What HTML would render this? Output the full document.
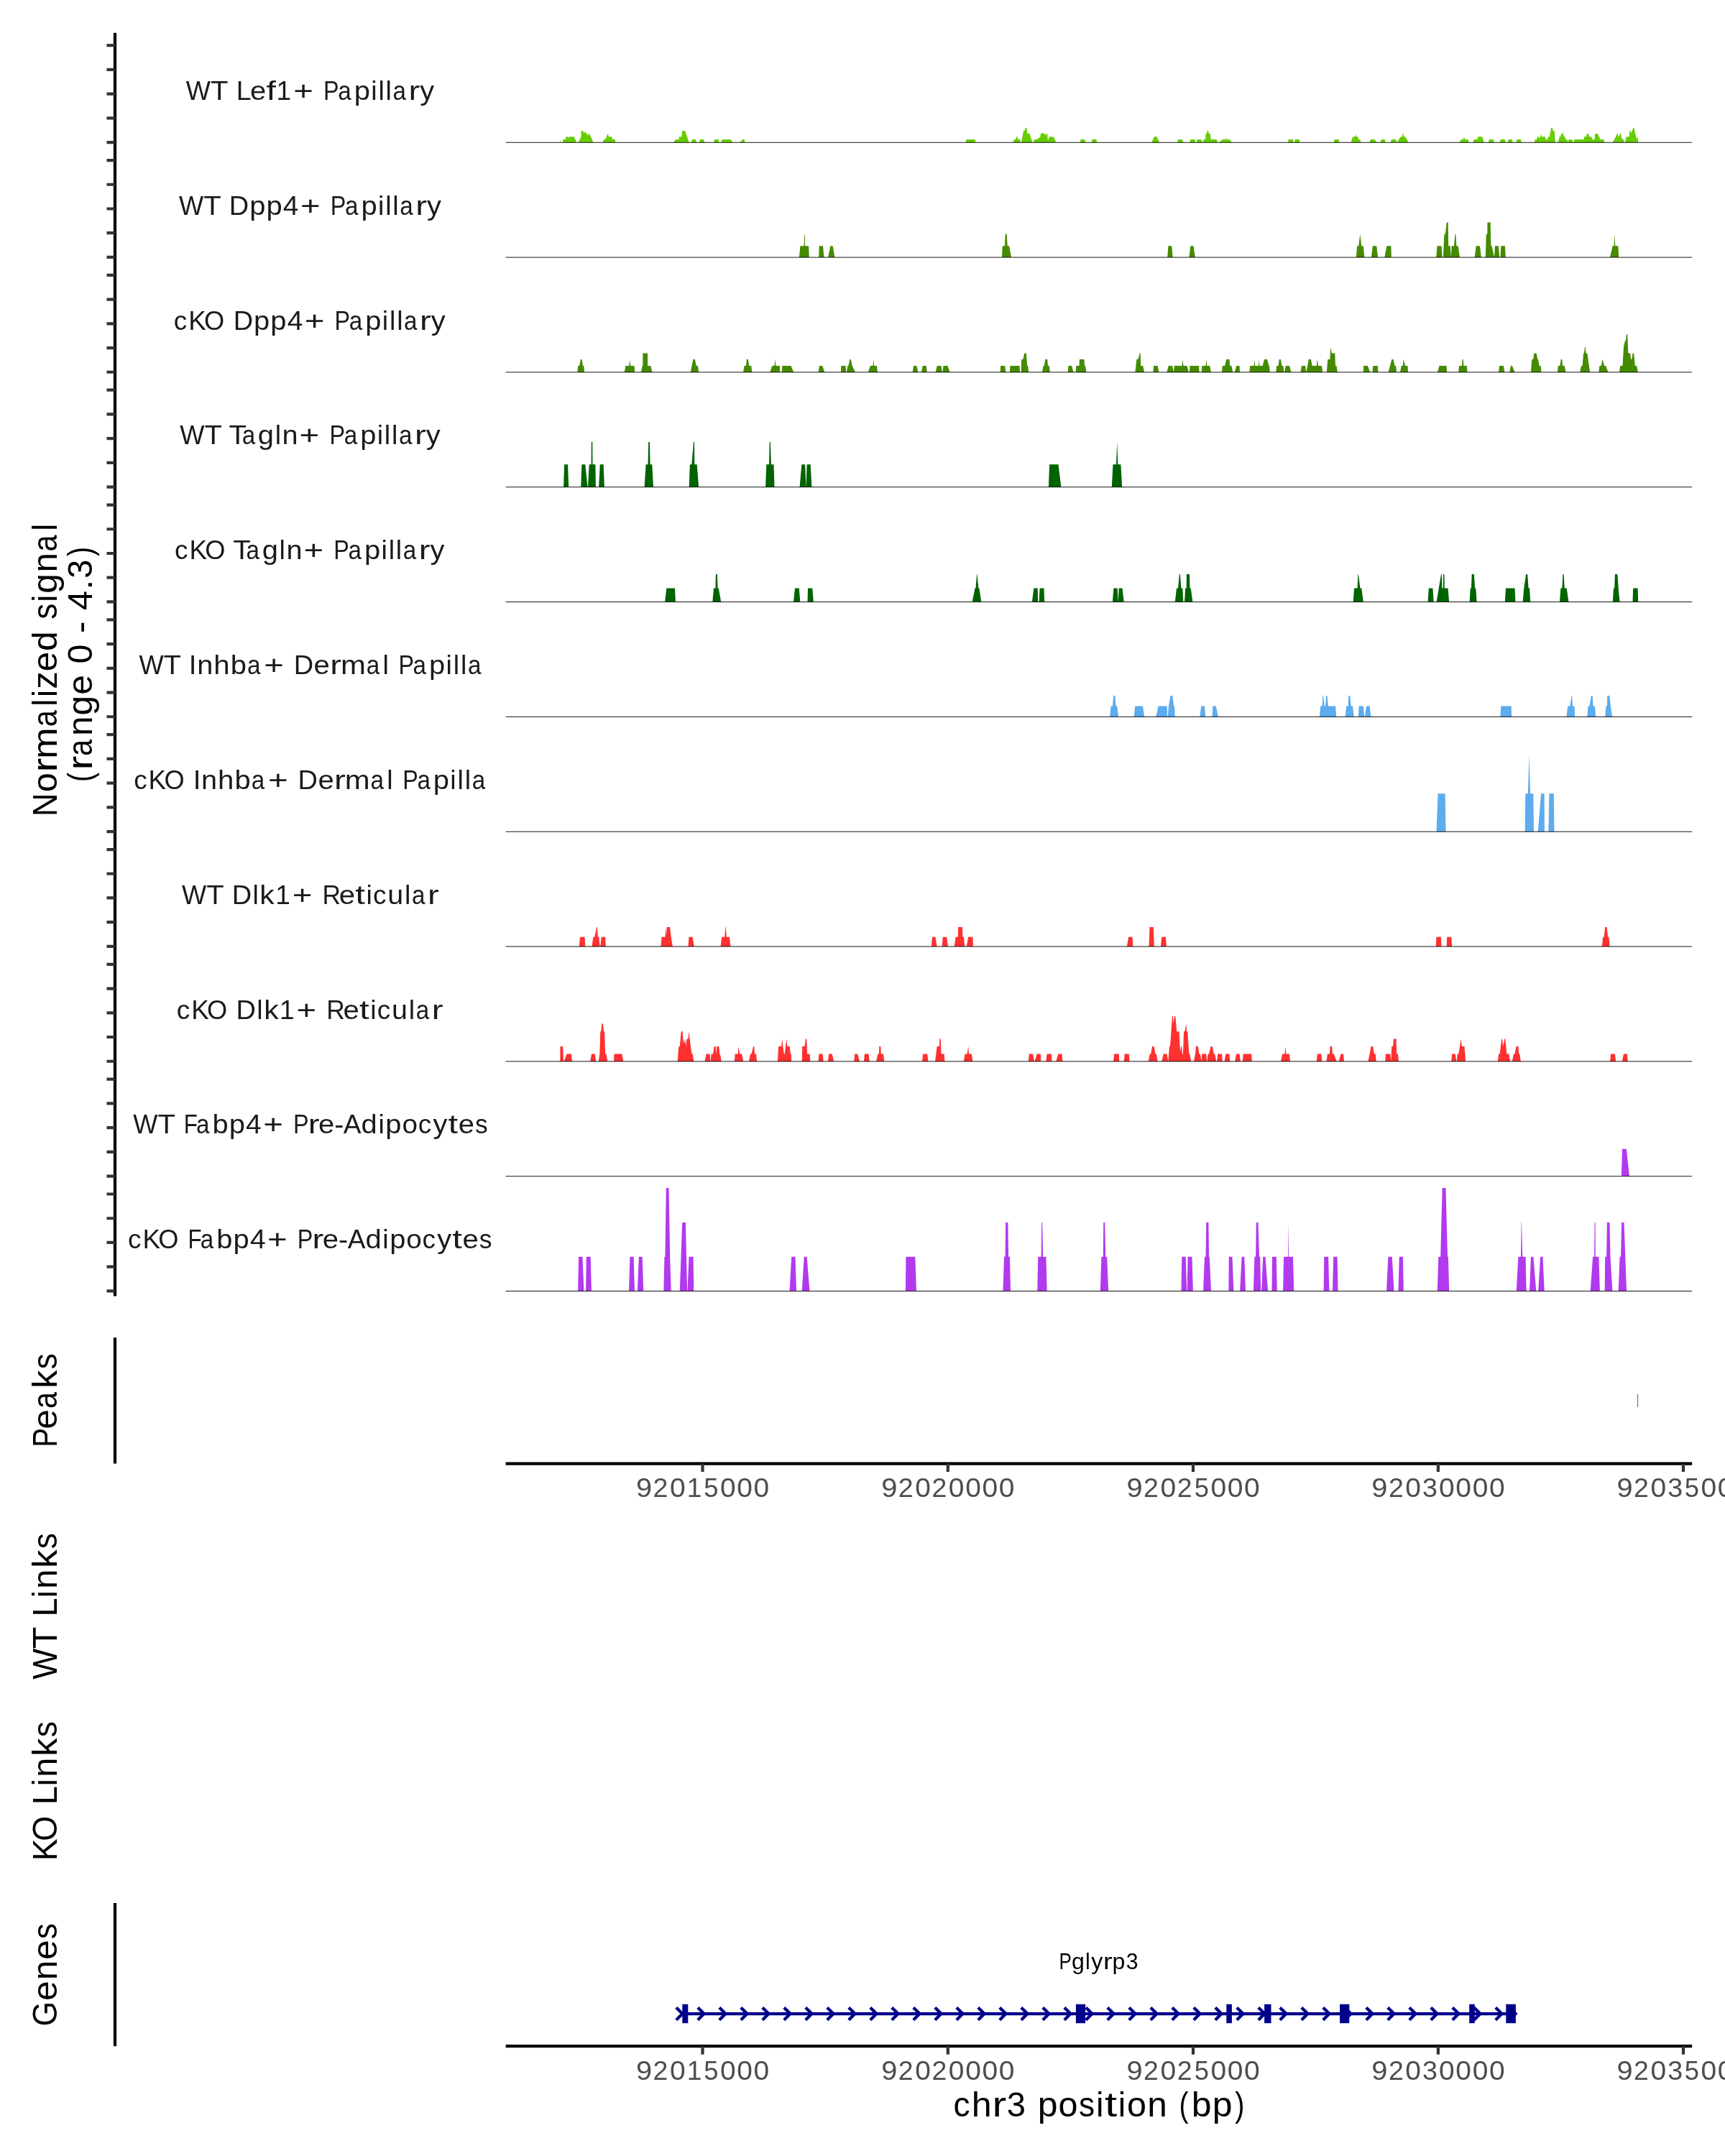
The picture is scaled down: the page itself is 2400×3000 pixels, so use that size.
<!DOCTYPE html><html><head><meta charset="utf-8"><title>Coverage plot</title><style>html,body{margin:0;padding:0;background:#fff}svg{display:block;will-change:transform}text{font-family:"Liberation Sans",sans-serif}</style></head><body>
<svg width="2400" height="3000" viewBox="0 0 2400 3000">
<rect width="2400" height="3000" fill="#fff"/>
<path d="M778.9 198.2L779.4 195.1L779.9 198.2ZM783.0 198.2L783.5 194.1L786.9 194.1L787.4 190.2L790.1 190.2L790.8 192.2L792.0 190.2L798.9 190.2L799.6 194.1L800.8 194.1L801.8 198.2ZM804.7 198.2L808.4 190.2L808.8 181.9L811.3 181.9L812.5 185.8L813.5 183.4L814.4 183.4L817.8 188.3L818.8 186.3L819.8 186.3L823.0 191.9L825.4 198.2ZM839.0 198.2L839.8 194.1L842.4 194.1L845.4 186.3L847.3 190.2L851.2 190.2L852.2 194.1L855.8 194.1L856.3 198.2ZM937.4 198.2L939.8 194.1L944.5 194.1L944.9 190.2L948.6 190.2L949.1 181.9L953.0 181.9L958.8 198.2ZM962.0 198.2L963.0 194.1L967.8 194.1L969.1 198.2ZM972.9 198.2L973.9 194.1L978.8 194.1L980.5 198.2ZM993.2 198.2L994.1 194.1L999.5 194.1L1000.7 198.2ZM1003.1 198.2L1004.8 194.1L1016.5 194.1L1019.5 198.2ZM1029.4 198.2L1033.1 194.1L1035.5 194.1L1036.5 198.2ZM1343.5 198.2L1344.5 194.1L1356.7 194.1L1357.4 198.2ZM1409.0 198.2L1411.0 194.1L1413.4 194.1L1414.1 190.2L1415.3 190.2L1416.6 194.1L1419.0 194.1L1420.0 198.2ZM1420.9 198.2L1423.4 185.8L1423.9 181.9L1425.8 181.9L1426.3 178.0L1428.5 178.0L1429.2 185.8L1432.4 185.8L1436.5 198.2ZM1437.8 198.2L1439.0 194.1L1442.6 194.1L1447.5 190.2L1448.0 185.8L1450.2 185.8L1450.4 183.9L1450.7 185.8L1454.1 185.8L1454.6 188.3L1455.5 188.3L1456.0 185.8L1457.2 185.8L1457.7 194.1L1458.9 194.1L1459.7 190.2L1465.8 190.2L1469.4 198.2ZM1502.5 198.2L1503.5 194.1L1509.1 194.1L1510.3 198.2ZM1518.8 198.2L1519.3 194.1L1525.4 194.1L1526.1 198.2ZM1602.3 198.2L1605.7 190.2L1609.9 190.2L1610.6 194.1L1611.8 194.1L1613.0 198.2ZM1638.1 198.2L1639.1 194.1L1645.2 194.1L1645.9 198.2ZM1655.2 198.2L1656.4 194.1L1662.5 194.1L1663.4 198.2ZM1664.7 198.2L1665.9 194.1L1671.5 194.1L1672.7 198.2ZM1673.4 198.2L1674.6 194.1L1677.1 194.1L1677.6 185.8L1679.3 185.8L1679.5 181.9L1681.2 181.9L1681.5 185.8L1683.9 185.8L1684.4 194.1L1685.8 194.1L1686.1 191.2L1686.3 194.1L1692.7 194.1L1693.9 198.2ZM1696.3 198.2L1700.7 194.1L1705.1 194.1L1705.6 190.7L1706.3 194.1L1711.2 194.1L1713.6 198.2ZM1792.0 198.2L1792.7 194.1L1798.8 194.1L1799.8 198.2ZM1801.0 198.2L1802.0 194.1L1807.8 194.1L1808.3 198.2ZM1855.8 198.2L1856.8 194.1L1862.6 194.1L1863.4 198.2ZM1879.7 198.2L1880.9 194.1L1882.1 190.2L1885.8 190.2L1886.5 186.3L1887.2 190.2L1889.4 190.2L1889.9 194.1L1892.3 194.1L1893.1 198.2ZM1905.2 198.2L1907.2 194.1L1912.5 194.1L1915.5 198.2ZM1919.8 198.2L1922.3 194.1L1926.7 194.1L1927.6 198.2ZM1934.9 198.2L1935.9 194.1L1942.2 194.1L1943.0 198.2ZM1943.5 198.2L1946.1 194.1L1949.1 190.2L1951.0 190.2L1951.5 185.8L1952.5 185.8L1953.0 190.2L1955.1 190.2L1957.6 194.1L1959.3 198.2ZM2030.6 198.2L2033.0 194.1L2035.5 194.1L2036.9 190.7L2038.4 194.1L2042.8 194.1L2043.3 198.2ZM2049.6 198.2L2050.6 194.1L2055.7 194.1L2056.2 190.2L2062.3 190.2L2063.5 194.1L2064.2 198.2ZM2071.0 198.2L2072.0 194.1L2077.8 194.1L2078.8 198.2ZM2086.6 198.2L2087.6 194.1L2093.9 194.1L2094.6 198.2ZM2097.6 198.2L2098.8 194.1L2103.7 194.1L2104.4 198.2ZM2109.5 198.2L2110.5 194.1L2115.8 194.1L2117.0 198.2ZM2134.8 198.2L2135.8 194.1L2138.2 194.1L2139.0 190.2L2141.4 190.2L2142.1 193.1L2143.1 190.2L2144.1 186.3L2145.0 190.2L2149.9 190.2L2150.7 194.1L2153.1 194.1L2154.1 190.2L2156.0 190.2L2156.7 185.8L2158.0 178.0L2159.7 178.0L2160.9 181.9L2162.6 181.9L2163.6 194.1L2164.0 198.2ZM2167.7 198.2L2169.9 190.2L2171.3 190.2L2171.8 186.3L2173.8 186.3L2174.5 182.9L2175.0 186.3L2175.7 190.2L2177.2 190.2L2178.4 194.1L2180.4 194.1L2181.6 198.2ZM2181.6 198.2L2182.5 194.1L2186.9 194.1L2188.9 198.2ZM2189.6 198.2L2190.3 194.1L2203.5 194.1L2204.2 190.2L2207.1 190.2L2207.6 186.3L2210.3 186.3L2210.8 190.2L2214.4 190.2L2215.2 194.1L2218.6 194.1L2219.1 186.3L2223.5 186.3L2224.2 190.2L2225.4 190.2L2225.9 194.1L2231.5 194.1L2232.2 198.2ZM2243.7 198.2L2246.1 194.1L2248.0 190.2L2249.7 186.3L2251.0 186.3L2251.7 190.2L2252.7 190.2L2253.4 186.3L2255.1 186.3L2255.8 190.2L2257.1 194.1L2259.0 194.1L2260.0 198.2ZM2260.9 198.2L2262.7 190.2L2266.8 190.2L2267.3 181.9L2268.5 181.9L2269.2 185.8L2270.0 183.9L2272.4 178.0L2273.4 178.0L2275.8 188.3L2276.5 190.2L2277.3 194.1L2278.0 191.2L2279.0 191.2L2279.0 198.2Z" fill="#66CD00"/>
<line x1="703.6" x2="2354.2" y1="198.25" y2="198.25" stroke="#000" stroke-width="0.92"/>
<path d="M1111.9 358.1L1113.4 342.3L1118.7 342.3L1119.2 325.7L1119.7 325.7L1120.2 342.3L1125.1 342.3L1125.8 358.1ZM1139.2 358.1L1139.7 342.3L1145.0 342.3L1146.5 358.1ZM1152.1 358.1L1155.3 342.3L1158.7 342.3L1161.3 358.1ZM1393.9 358.1L1394.8 342.3L1398.0 342.3L1398.7 325.7L1400.7 325.7L1401.7 342.3L1404.1 342.3L1407.0 358.1ZM1624.2 358.1L1625.4 342.3L1630.3 342.3L1631.7 358.1ZM1654.4 358.1L1656.3 342.3L1660.5 342.3L1662.9 358.1ZM1886.9 358.1L1888.1 342.3L1890.3 342.3L1892.3 325.7L1894.2 342.3L1896.7 342.3L1898.4 358.1ZM1907.9 358.1L1909.8 342.3L1915.2 342.3L1917.1 358.1ZM1926.4 358.1L1929.3 342.3L1935.4 342.3L1935.9 358.1ZM1998.2 358.1L1999.6 342.3L2005.5 342.3L2006.7 358.1ZM2007.9 358.1L2009.4 325.7L2010.8 325.7L2012.8 309.6L2014.7 309.6L2015.2 342.3L2017.7 342.3L2018.9 358.1ZM2018.9 358.1L2019.6 342.3L2023.0 342.3L2024.5 325.7L2025.4 325.7L2026.4 342.3L2028.6 342.3L2031.0 358.1ZM2051.7 358.1L2053.7 342.3L2059.0 342.3L2060.8 358.1ZM2066.8 358.1L2067.8 325.7L2069.3 325.7L2069.5 309.6L2073.7 309.6L2074.4 342.3L2075.6 342.3L2079.0 358.1ZM2079.0 358.1L2080.0 342.3L2084.9 342.3L2086.3 358.1ZM2087.5 358.1L2088.3 342.3L2093.9 342.3L2094.8 358.1ZM2240.0 358.1L2243.6 342.3L2245.6 342.3L2246.3 325.7L2247.3 342.3L2251.4 342.3L2252.1 358.1Z" fill="#458B00"/>
<line x1="703.6" x2="2354.2" y1="358.08" y2="358.08" stroke="#000" stroke-width="0.92"/>
<path d="M803.5 517.9L804.2 509.1L806.2 509.1L807.9 500.1L809.6 500.1L811.0 509.1L812.2 509.1L813.2 517.9ZM868.7 517.9L870.4 509.1L875.3 509.1L876.3 500.6L877.3 509.1L882.6 509.1L883.1 517.9ZM891.9 517.9L893.6 509.1L894.3 509.1L894.3 491.4L901.1 491.4L901.1 509.1L905.3 509.1L907.5 517.9ZM960.8 517.9L962.5 509.1L964.4 500.1L966.9 500.1L968.8 509.1L970.8 509.1L972.2 517.9ZM1034.1 517.9L1035.5 509.1L1038.0 509.1L1038.9 500.1L1040.9 500.1L1042.3 509.1L1045.3 509.1L1046.2 517.9ZM1071.3 517.9L1074.2 509.1L1077.4 509.1L1078.4 500.1L1079.4 509.1L1084.7 509.1L1085.2 517.9ZM1087.6 517.9L1088.4 509.1L1100.5 509.1L1104.2 517.9ZM1138.7 517.9L1140.0 509.1L1144.3 509.1L1147.3 517.9ZM1169.9 517.9L1170.4 509.1L1176.5 509.1L1177.2 517.9ZM1177.9 517.9L1179.2 509.1L1180.4 509.1L1182.3 500.1L1183.8 500.1L1185.7 509.1L1187.0 511.6L1189.9 517.9ZM1207.7 517.9L1210.8 509.1L1214.5 509.1L1215.2 500.1L1216.2 509.1L1219.8 509.1L1221.0 517.9ZM1269.7 517.9L1271.0 509.1L1275.3 509.1L1277.5 517.9ZM1281.9 517.9L1283.6 509.1L1288.7 509.1L1289.7 517.9ZM1301.6 517.9L1303.8 509.1L1309.4 509.1L1311.1 517.9ZM1311.4 517.9L1312.4 509.1L1318.4 509.1L1321.6 517.9ZM1391.5 517.9L1392.2 509.1L1398.1 509.1L1399.3 517.9ZM1404.9 517.9L1405.4 509.1L1418.5 509.1L1419.0 517.9ZM1420.7 517.9L1421.2 500.1L1423.4 500.1L1425.3 491.4L1427.8 491.4L1429.2 509.1L1430.2 509.1L1431.2 517.9ZM1449.9 517.9L1451.6 509.1L1452.8 509.1L1454.3 500.1L1457.2 500.1L1458.0 509.1L1459.9 509.1L1460.9 517.9ZM1485.7 517.9L1486.4 509.1L1491.1 509.1L1493.5 517.9ZM1496.7 517.9L1497.2 509.1L1501.5 509.1L1502.0 500.1L1508.4 500.1L1509.1 509.1L1510.1 509.1L1511.5 517.9ZM1579.4 517.9L1581.4 500.1L1583.3 500.1L1585.8 491.4L1586.7 491.4L1587.2 509.1L1590.2 509.1L1592.1 517.9ZM1604.5 517.9L1605.0 509.1L1610.6 509.1L1612.3 517.9ZM1623.5 517.9L1625.7 509.1L1631.1 509.1L1633.0 517.9ZM1633.0 517.9L1633.7 509.1L1644.7 509.1L1645.2 500.1L1646.6 509.1L1651.5 509.1L1654.0 517.9ZM1654.9 517.9L1655.4 509.1L1668.1 509.1L1668.6 517.9ZM1671.7 517.9L1672.5 509.1L1677.6 509.1L1678.3 500.1L1679.3 509.1L1683.2 509.1L1684.9 517.9ZM1700.0 517.9L1700.7 509.1L1704.1 509.1L1706.1 500.1L1710.4 500.1L1711.4 509.1L1713.4 509.1L1715.3 517.9ZM1717.7 517.9L1720.2 509.1L1724.6 509.1L1725.0 517.9ZM1738.4 517.9L1739.2 509.1L1744.5 509.1L1745.3 501.1L1746.2 509.1L1751.3 509.1L1751.8 500.1L1752.6 509.1L1756.7 509.1L1759.1 500.1L1763.0 500.1L1765.5 509.1L1766.0 509.1L1766.9 517.9ZM1775.2 517.9L1776.2 509.1L1778.6 509.1L1779.8 500.1L1781.8 500.1L1783.5 509.1L1785.4 509.1L1786.4 517.9ZM1787.1 517.9L1788.8 509.1L1794.0 509.1L1796.4 517.9ZM1809.5 517.9L1811.0 509.1L1816.1 509.1L1817.1 517.9ZM1817.1 517.9L1819.3 509.1L1820.7 500.1L1823.9 500.1L1825.6 509.1L1831.7 509.1L1832.9 500.1L1834.1 509.1L1839.0 509.1L1840.2 517.9ZM1845.8 517.9L1847.3 500.1L1850.4 500.1L1851.2 483.6L1852.9 491.4L1857.3 491.4L1858.0 509.1L1859.5 509.1L1860.9 517.9ZM1896.7 517.9L1897.2 509.1L1902.8 509.1L1906.4 517.9ZM1909.6 517.9L1910.3 509.1L1916.9 509.1L1917.4 517.9ZM1931.5 517.9L1934.0 509.1L1936.4 500.1L1938.6 500.1L1940.5 509.1L1942.2 509.1L1943.0 517.9ZM1948.0 517.9L1949.7 509.1L1951.7 509.1L1952.7 500.1L1955.1 509.1L1958.5 509.1L1959.0 517.9ZM1999.9 517.9L2002.6 509.1L2012.6 509.1L2013.0 517.9ZM2029.1 517.9L2030.1 509.1L2034.0 509.1L2034.5 500.1L2035.7 500.1L2036.4 509.1L2040.8 509.1L2041.5 517.9ZM2085.1 517.9L2086.1 509.1L2091.9 509.1L2093.4 517.9ZM2100.2 517.9L2101.9 509.1L2103.9 509.1L2107.5 517.9ZM2129.9 517.9L2131.4 500.1L2133.1 500.1L2134.5 491.4L2137.7 491.4L2139.2 500.1L2140.1 500.1L2141.6 509.1L2143.6 509.1L2144.5 517.9ZM2166.9 517.9L2167.9 509.1L2170.3 509.1L2171.8 500.1L2173.3 500.1L2174.2 509.1L2176.7 509.1L2178.6 517.9ZM2198.1 517.9L2200.0 509.1L2201.7 509.1L2203.0 491.4L2203.9 491.4L2205.2 482.8L2205.9 482.8L2206.4 491.4L2208.3 491.4L2210.8 509.1L2212.2 517.9ZM2224.4 517.9L2225.4 509.1L2227.8 509.1L2229.5 500.1L2232.2 509.1L2234.1 509.1L2237.5 517.9ZM2253.1 517.9L2254.1 509.1L2257.5 509.1L2259.0 482.8L2260.9 474.3L2261.9 474.3L2262.9 465.3L2264.3 465.3L2265.3 491.4L2268.0 491.4L2269.2 500.1L2270.2 500.1L2271.6 491.4L2273.1 491.4L2274.8 509.1L2277.2 509.1L2278.9 517.9Z" fill="#458B00"/>
<line x1="703.6" x2="2354.2" y1="517.91" y2="517.91" stroke="#000" stroke-width="0.92"/>
<path d="M784.1 677.7L785.1 646.3L790.0 646.3L791.2 677.7ZM808.2 677.7L809.4 646.3L814.3 646.3L817.5 677.7ZM818.0 677.7L819.7 646.3L822.6 646.3L822.8 614.9L824.3 614.9L824.5 646.3L828.4 646.3L828.9 677.7ZM833.1 677.7L834.8 646.3L839.6 646.3L840.9 677.7ZM896.6 677.7L898.6 646.3L901.5 646.3L902.2 614.9L903.9 614.9L904.6 646.3L907.3 646.3L909.0 677.7ZM958.7 677.7L959.9 646.3L962.4 646.3L965.0 614.9L966.0 614.9L966.3 646.3L969.7 646.3L972.1 677.7ZM1065.1 677.7L1066.3 646.3L1070.0 646.3L1070.7 614.9L1071.9 614.9L1072.9 646.3L1076.5 646.3L1077.5 677.7ZM1112.6 677.7L1115.3 646.3L1120.1 646.3L1121.6 677.7ZM1121.6 677.7L1122.6 646.3L1127.7 646.3L1129.4 677.7ZM1458.9 677.7L1460.1 646.3L1472.5 646.3L1476.4 677.7ZM1546.8 677.7L1548.5 646.3L1552.9 646.3L1554.3 614.9L1555.3 646.3L1559.4 646.3L1561.2 677.7Z" fill="#006400"/>
<line x1="703.6" x2="2354.2" y1="677.74" y2="677.74" stroke="#000" stroke-width="0.92"/>
<path d="M925.1 837.6L927.3 818.6L939.0 818.6L939.9 837.6ZM991.3 837.6L993.0 818.6L995.4 818.6L995.9 799.1L997.9 799.1L998.6 818.6L999.8 818.6L1003.2 837.6ZM1104.0 837.6L1106.0 818.6L1111.8 818.6L1113.3 837.6ZM1123.5 837.6L1124.0 818.6L1130.3 818.6L1131.8 837.6ZM1352.6 837.6L1356.5 818.6L1357.5 818.6L1359.0 799.1L1359.4 799.1L1361.4 818.6L1362.4 818.6L1365.3 837.6ZM1435.9 837.6L1438.3 818.6L1443.7 818.6L1444.2 837.6ZM1445.6 837.6L1446.6 818.6L1452.5 818.6L1453.2 837.6ZM1547.9 837.6L1549.4 818.6L1554.7 818.6L1555.7 837.6ZM1555.7 837.6L1556.7 818.6L1561.5 818.6L1563.7 837.6ZM1634.8 837.6L1637.0 818.6L1639.0 818.6L1640.9 799.1L1641.9 799.1L1643.4 818.6L1645.3 818.6L1646.3 837.6ZM1648.0 837.6L1649.2 818.6L1650.7 818.6L1650.9 799.1L1655.0 799.1L1655.5 818.6L1656.7 818.6L1659.4 837.6ZM1882.7 837.6L1884.1 818.6L1888.5 818.6L1889.5 799.1L1890.0 799.1L1892.4 818.6L1894.3 818.6L1896.8 837.6ZM1986.6 837.6L1987.8 818.6L1993.4 818.6L1994.7 837.6ZM1998.6 837.6L2005.1 799.1L2005.9 799.1L2006.4 818.6L2007.8 818.6L2008.1 799.1L2009.5 799.1L2009.8 818.6L2014.6 818.6L2016.1 837.6ZM2044.6 837.6L2045.8 818.6L2047.0 818.6L2047.7 799.1L2050.9 799.1L2052.1 818.6L2053.3 818.6L2054.6 837.6ZM2093.8 837.6L2095.0 818.6L2107.6 818.6L2108.4 837.6ZM2118.6 837.6L2120.3 818.6L2123.2 799.1L2125.2 799.1L2126.6 818.6L2128.1 818.6L2129.3 837.6ZM2170.0 837.6L2171.4 818.6L2173.4 818.6L2174.4 799.1L2175.6 799.1L2176.8 818.6L2179.7 818.6L2182.4 837.6ZM2243.8 837.6L2245.0 818.6L2246.2 818.6L2246.9 799.1L2250.3 799.1L2252.3 825.2L2253.7 837.6ZM2271.5 837.6L2272.2 818.6L2278.6 818.6L2279.3 837.6Z" fill="#006400"/>
<line x1="703.6" x2="2354.2" y1="837.57" y2="837.57" stroke="#000" stroke-width="0.92"/>
<path d="M1544.1 997.4L1545.6 982.5L1548.0 982.5L1549.2 967.9L1551.4 967.9L1552.6 982.5L1554.3 982.5L1556.1 997.4ZM1577.7 997.4L1579.2 982.5L1589.9 982.5L1592.3 997.4ZM1608.2 997.4L1611.8 982.5L1623.7 982.5L1624.0 997.4ZM1624.7 997.4L1625.9 982.5L1628.4 967.9L1631.3 967.9L1633.2 982.5L1634.2 982.5L1634.7 997.4ZM1669.3 997.4L1671.2 982.5L1676.1 982.5L1677.1 997.4ZM1686.6 997.4L1687.3 982.5L1691.7 982.5L1695.1 997.4ZM1835.8 997.4L1837.3 982.5L1839.7 982.5L1840.2 967.9L1840.9 967.9L1842.9 982.5L1844.1 982.5L1845.1 967.9L1846.5 967.9L1848.0 982.5L1858.2 982.5L1859.2 997.4ZM1871.6 997.4L1873.3 982.5L1875.8 982.5L1876.2 967.9L1878.4 967.9L1879.6 982.5L1882.1 982.5L1883.8 997.4ZM1889.9 997.4L1890.6 982.5L1896.7 982.5L1898.4 997.4ZM1898.9 997.4L1901.1 982.5L1905.7 982.5L1907.4 997.4ZM2087.3 997.4L2088.3 982.5L2102.7 982.5L2103.2 997.4ZM2179.4 997.4L2181.3 982.5L2184.2 982.5L2186.7 967.9L2187.2 967.9L2188.1 982.5L2190.6 982.5L2191.1 997.4ZM2208.3 997.4L2209.6 982.5L2211.5 982.5L2213.9 967.9L2215.6 967.9L2216.6 982.5L2218.8 982.5L2220.3 997.4ZM2233.2 997.4L2234.4 982.5L2235.9 982.5L2236.3 967.9L2239.3 967.9L2241.2 985.0L2243.2 997.4Z" fill="#5CACEE"/>
<line x1="703.6" x2="2354.2" y1="997.40" y2="997.40" stroke="#000" stroke-width="0.92"/>
<path d="M1998.5 1157.2L2000.6 1104.2L2010.6 1104.2L2011.6 1157.2ZM2121.7 1157.2L2122.3 1104.2L2125.9 1104.2L2127.5 1050.1L2129.1 1104.2L2133.3 1104.2L2134.0 1157.2ZM2139.8 1157.2L2144.1 1104.2L2148.6 1104.2L2148.9 1157.2ZM2154.4 1157.2L2155.4 1104.2L2161.8 1104.2L2162.4 1157.2Z" fill="#5CACEE"/>
<line x1="703.6" x2="2354.2" y1="1157.23" y2="1157.23" stroke="#000" stroke-width="0.92"/>
<path d="M805.8 1317.1L807.0 1303.7L813.4 1303.7L814.3 1317.1ZM823.6 1317.1L825.3 1303.7L827.3 1303.7L830.2 1290.0L830.9 1290.0L831.9 1303.7L833.3 1303.7L834.6 1317.1ZM835.3 1317.1L836.7 1303.7L842.1 1303.7L842.8 1317.1ZM919.5 1317.1L920.5 1303.7L925.4 1303.7L926.6 1290.0L927.1 1302.2L927.8 1290.0L932.0 1290.0L933.7 1303.7L935.8 1317.1ZM957.5 1317.1L958.5 1303.7L963.6 1303.7L965.8 1317.1ZM1002.6 1317.1L1004.3 1303.7L1008.2 1303.7L1009.4 1290.0L1009.9 1290.0L1010.8 1303.7L1015.0 1303.7L1016.4 1317.1ZM1295.8 1317.1L1297.0 1303.7L1301.4 1303.7L1303.6 1317.1ZM1310.7 1317.1L1311.7 1303.7L1317.0 1303.7L1319.0 1317.1ZM1327.7 1317.1L1329.7 1303.7L1332.8 1303.7L1333.1 1290.0L1338.9 1290.0L1339.4 1303.7L1340.9 1303.7L1342.3 1317.1ZM1344.8 1317.1L1347.2 1303.7L1353.5 1303.7L1354.0 1317.1ZM1567.8 1317.1L1570.2 1303.7L1575.6 1303.7L1576.3 1317.1ZM1598.5 1317.1L1599.5 1290.0L1604.8 1290.0L1605.8 1317.1ZM1615.0 1317.1L1616.3 1303.7L1621.9 1303.7L1622.8 1317.1ZM1997.7 1317.1L1998.5 1303.7L2004.8 1303.7L2005.5 1317.1ZM2012.6 1317.1L2013.3 1303.7L2019.4 1303.7L2020.1 1317.1ZM2228.8 1317.1L2230.3 1303.7L2231.7 1303.7L2233.2 1290.0L2235.6 1290.0L2237.1 1303.7L2238.5 1303.7L2239.5 1317.1Z" fill="#FF3030"/>
<line x1="703.6" x2="2354.2" y1="1317.06" y2="1317.06" stroke="#000" stroke-width="0.92"/>
<path d="M779.3 1476.9L779.5 1456.0L783.1 1456.0L784.1 1476.9ZM784.6 1476.9L788.5 1466.4L794.8 1466.4L796.1 1476.9ZM821.1 1476.9L823.1 1466.4L827.7 1466.4L829.2 1476.9ZM832.8 1476.9L834.3 1466.4L835.3 1435.3L836.2 1435.3L837.2 1424.3L838.7 1424.3L840.1 1435.3L841.1 1435.3L842.1 1466.4L843.5 1466.4L845.2 1476.9ZM854.0 1476.9L854.5 1466.4L865.4 1466.4L867.4 1476.9ZM942.6 1476.9L944.3 1456.0L945.8 1456.0L947.7 1435.3L949.7 1435.3L950.7 1452.3L951.6 1445.5L952.6 1452.3L953.6 1445.5L954.3 1456.0L955.5 1445.5L957.5 1445.5L958.5 1435.3L960.4 1452.3L962.4 1466.4L963.8 1466.4L965.3 1476.9ZM980.4 1476.9L982.8 1466.4L987.7 1466.4L988.4 1476.9ZM988.7 1476.9L989.6 1466.4L992.1 1466.4L993.5 1456.0L995.7 1456.0L996.4 1466.4L997.4 1456.0L1000.3 1456.0L1001.3 1466.4L1002.5 1469.3L1003.7 1476.9ZM1021.8 1476.9L1022.7 1466.4L1026.6 1466.4L1027.6 1456.0L1029.1 1466.4L1032.0 1466.4L1034.4 1476.9ZM1042.0 1476.9L1043.9 1466.4L1045.6 1466.4L1048.1 1456.0L1049.3 1456.0L1050.0 1466.4L1052.0 1466.4L1053.2 1476.9ZM1081.9 1476.9L1083.1 1456.0L1087.0 1456.0L1088.5 1445.5L1089.2 1456.0L1090.9 1466.4L1091.9 1466.4L1092.9 1456.0L1094.3 1445.5L1095.3 1456.0L1098.7 1456.0L1099.9 1466.4L1100.7 1466.4L1101.1 1476.9ZM1115.8 1476.9L1116.2 1456.0L1119.6 1456.0L1120.9 1445.5L1122.3 1445.5L1123.1 1466.4L1126.5 1466.4L1127.4 1476.9ZM1138.6 1476.9L1139.4 1466.4L1144.5 1466.4L1145.7 1476.9ZM1151.8 1476.9L1153.2 1466.4L1157.6 1466.4L1160.3 1476.9ZM1188.0 1476.9L1189.3 1466.4L1193.1 1466.4L1196.1 1476.9ZM1201.9 1476.9L1202.9 1466.4L1208.7 1466.4L1209.7 1476.9ZM1219.0 1476.9L1221.4 1466.4L1222.9 1466.4L1223.3 1456.0L1225.3 1456.0L1225.8 1466.4L1229.2 1466.4L1230.2 1476.9ZM1283.0 1476.9L1284.2 1466.4L1290.1 1466.4L1291.5 1476.9ZM1301.0 1476.9L1303.7 1456.0L1306.9 1456.0L1307.3 1445.5L1308.8 1445.5L1309.5 1466.4L1313.7 1466.4L1314.4 1476.9ZM1340.7 1476.9L1342.6 1466.4L1345.6 1466.4L1347.3 1456.0L1348.0 1466.4L1351.9 1466.4L1353.4 1476.9ZM1430.8 1476.9L1431.8 1466.4L1437.1 1466.4L1439.1 1476.9ZM1439.6 1476.9L1442.5 1466.4L1447.8 1466.4L1448.3 1476.9ZM1455.4 1476.9L1456.6 1466.4L1462.7 1466.4L1463.4 1476.9ZM1469.3 1476.9L1472.2 1466.4L1477.5 1466.4L1478.3 1476.9ZM1549.1 1476.9L1550.1 1466.4L1556.7 1466.4L1557.4 1476.9ZM1563.7 1476.9L1564.7 1466.4L1570.8 1466.4L1571.5 1476.9ZM1597.8 1476.9L1599.7 1466.4L1601.2 1466.4L1603.1 1456.0L1605.6 1456.0L1607.5 1466.4L1609.0 1466.4L1610.5 1476.9ZM1616.3 1476.9L1618.7 1466.4L1623.6 1466.4L1625.3 1476.9ZM1625.3 1476.9L1627.0 1456.0L1628.0 1456.0L1630.9 1413.8L1631.9 1413.8L1632.6 1424.3L1634.1 1413.8L1635.3 1413.8L1636.3 1424.3L1637.2 1435.3L1640.6 1435.3L1641.6 1456.0L1642.1 1464.5L1643.1 1456.0L1644.1 1456.0L1645.0 1466.4L1646.0 1466.4L1647.0 1435.3L1648.4 1435.3L1650.4 1424.3L1650.9 1435.3L1652.3 1435.3L1654.3 1466.4L1655.3 1466.4L1657.2 1476.9ZM1660.9 1476.9L1663.0 1466.4L1664.0 1456.0L1666.9 1456.0L1668.4 1466.4L1669.9 1466.4L1671.6 1476.9ZM1671.6 1476.9L1672.3 1466.4L1678.4 1466.4L1679.1 1476.9ZM1679.6 1476.9L1680.6 1466.4L1682.0 1466.4L1684.5 1456.0L1686.7 1456.0L1688.9 1466.4L1690.3 1466.4L1692.3 1476.9ZM1693.2 1476.9L1694.2 1466.4L1700.1 1466.4L1700.8 1476.9ZM1703.5 1476.9L1705.4 1466.4L1710.5 1466.4L1711.3 1476.9ZM1718.1 1476.9L1720.0 1466.4L1724.6 1466.4L1725.9 1476.9ZM1728.8 1476.9L1729.8 1466.4L1741.2 1466.4L1741.9 1476.9ZM1781.9 1476.9L1784.3 1466.4L1787.5 1466.4L1788.4 1456.0L1789.4 1466.4L1794.0 1466.4L1795.0 1476.9ZM1831.8 1476.9L1832.8 1466.4L1838.4 1466.4L1839.3 1476.9ZM1845.4 1476.9L1846.9 1466.4L1850.0 1466.4L1850.5 1456.0L1853.2 1456.0L1853.9 1466.4L1855.9 1466.4L1859.8 1476.9ZM1862.7 1476.9L1865.6 1466.4L1869.0 1466.4L1870.0 1476.9ZM1903.4 1476.9L1905.6 1466.4L1907.5 1456.0L1910.2 1456.0L1911.9 1466.4L1913.8 1466.4L1914.8 1476.9ZM1927.2 1476.9L1928.0 1466.4L1934.3 1466.4L1935.3 1476.9ZM1935.3 1476.9L1936.2 1456.0L1938.2 1456.0L1938.9 1445.5L1942.6 1445.5L1943.1 1466.4L1945.0 1466.4L1946.0 1476.9ZM2019.4 1476.9L2020.1 1466.4L2024.8 1466.4L2026.2 1476.9ZM2026.7 1476.9L2027.7 1466.4L2029.2 1466.4L2031.1 1456.0L2032.6 1445.5L2034.0 1456.0L2037.4 1456.0L2038.4 1466.4L2039.1 1476.9ZM2083.7 1476.9L2085.2 1466.4L2086.6 1466.4L2089.3 1445.5L2090.0 1445.5L2091.5 1456.0L2093.2 1445.5L2094.2 1445.5L2096.4 1466.4L2099.3 1466.4L2101.2 1476.9ZM2103.7 1476.9L2106.1 1466.4L2107.6 1466.4L2109.5 1456.0L2112.4 1456.0L2113.4 1466.4L2114.4 1466.4L2115.8 1476.9ZM2240.0 1476.9L2241.2 1466.4L2246.8 1466.4L2248.3 1476.9ZM2256.8 1476.9L2259.0 1466.4L2263.9 1466.4L2264.8 1476.9Z" fill="#FF3030"/>
<line x1="703.6" x2="2354.2" y1="1476.89" y2="1476.89" stroke="#000" stroke-width="0.92"/>
<path d="M2255.9 1636.7L2257.0 1598.7L2262.9 1598.7L2267.0 1636.7Z" fill="#B23AEE"/>
<line x1="703.6" x2="2354.2" y1="1636.72" y2="1636.72" stroke="#000" stroke-width="0.92"/>
<path d="M804.1 1796.6L805.1 1748.8L810.5 1748.8L812.4 1796.6ZM815.1 1796.6L815.8 1748.8L821.7 1748.8L822.9 1796.6ZM875.0 1796.6L876.4 1748.8L881.6 1748.8L883.0 1796.6ZM886.9 1796.6L888.9 1748.8L893.7 1748.8L895.2 1796.6ZM923.4 1796.6L924.4 1748.8L925.4 1748.8L926.8 1653.1L930.5 1653.1L932.2 1748.8L933.7 1796.6ZM945.8 1796.6L949.2 1700.9L953.9 1700.9L956.1 1796.6ZM956.5 1796.6L958.5 1748.8L964.6 1748.8L965.3 1796.6ZM1098.5 1796.6L1101.2 1748.8L1106.5 1748.8L1108.0 1796.6ZM1115.8 1796.6L1118.7 1748.8L1122.6 1748.8L1126.5 1796.6ZM1259.9 1796.6L1260.4 1748.8L1273.3 1748.8L1275.0 1796.6ZM1395.5 1796.6L1397.0 1748.8L1398.5 1748.8L1399.2 1700.9L1402.4 1700.9L1403.1 1748.8L1405.0 1748.8L1406.0 1796.6ZM1443.3 1796.6L1444.2 1748.8L1448.6 1748.8L1449.3 1700.9L1450.3 1700.9L1451.1 1748.8L1455.4 1748.8L1456.7 1796.6ZM1530.9 1796.6L1532.4 1748.8L1534.8 1748.8L1535.3 1700.9L1537.2 1700.9L1538.2 1748.8L1540.2 1748.8L1542.1 1796.6ZM1643.4 1796.6L1644.3 1748.8L1649.7 1748.8L1651.2 1796.6ZM1651.7 1796.6L1652.6 1748.8L1658.5 1748.8L1659.9 1796.6ZM1674.1 1796.6L1676.0 1748.8L1677.5 1748.8L1678.2 1700.9L1681.4 1700.9L1682.1 1748.8L1682.8 1748.8L1685.0 1796.6ZM1709.4 1796.6L1709.8 1748.8L1714.5 1748.8L1716.4 1796.6ZM1725.2 1796.6L1727.6 1748.8L1731.3 1748.8L1733.0 1796.6ZM1743.9 1796.6L1745.4 1748.8L1747.1 1748.8L1747.8 1700.9L1750.5 1700.9L1752.0 1748.8L1753.2 1748.8L1754.2 1796.6ZM1755.1 1796.6L1757.3 1748.8L1760.5 1748.8L1764.1 1796.6ZM1769.5 1796.6L1770.0 1748.8L1775.8 1748.8L1776.8 1796.6ZM1785.1 1796.6L1786.1 1748.8L1791.9 1748.8L1792.4 1700.9L1792.9 1748.8L1799.0 1748.8L1800.2 1796.6ZM1841.6 1796.6L1842.3 1748.8L1848.1 1748.8L1849.4 1796.6ZM1854.0 1796.6L1855.2 1748.8L1860.6 1748.8L1861.5 1796.6ZM1929.0 1796.6L1931.4 1748.8L1936.8 1748.8L1939.5 1796.6ZM1945.5 1796.6L1946.8 1748.8L1951.9 1748.8L1952.8 1796.6ZM1999.8 1796.6L2001.3 1748.8L2004.2 1748.8L2006.7 1653.1L2011.5 1653.1L2014.0 1748.8L2014.9 1748.8L2016.2 1796.6ZM2109.7 1796.6L2112.4 1748.8L2116.1 1748.8L2116.6 1700.9L2117.0 1700.9L2118.3 1748.8L2122.6 1748.8L2123.6 1796.6ZM2128.0 1796.6L2130.0 1748.8L2133.4 1748.8L2137.3 1796.6ZM2140.2 1796.6L2143.1 1748.8L2146.5 1748.8L2148.7 1796.6ZM2212.7 1796.6L2216.1 1748.8L2218.1 1748.8L2218.6 1700.9L2219.6 1700.9L2219.8 1748.8L2224.4 1748.8L2225.9 1796.6ZM2232.7 1796.6L2233.2 1748.8L2235.1 1748.8L2235.9 1700.9L2239.5 1700.9L2240.5 1748.8L2243.4 1796.6ZM2251.7 1796.6L2253.6 1748.8L2255.1 1748.8L2256.1 1700.9L2259.5 1700.9L2263.1 1796.6Z" fill="#B23AEE"/>
<line x1="703.6" x2="2354.2" y1="1796.55" y2="1796.55" stroke="#000" stroke-width="0.92"/>
<line x1="160" x2="160" y1="45.8" y2="1803.6" stroke="#000" stroke-width="4.2"/>
<path d="M148.5 198.10H160M148.5 164.38H160M148.5 130.66H160M148.5 96.94H160M148.5 63.22H160M148.5 357.93H160M148.5 324.21H160M148.5 290.49H160M148.5 256.77H160M148.5 223.05H160M148.5 517.76H160M148.5 484.04H160M148.5 450.32H160M148.5 416.60H160M148.5 382.88H160M148.5 677.59H160M148.5 643.87H160M148.5 610.15H160M148.5 576.43H160M148.5 542.71H160M148.5 837.42H160M148.5 803.70H160M148.5 769.98H160M148.5 736.26H160M148.5 702.54H160M148.5 997.25H160M148.5 963.53H160M148.5 929.81H160M148.5 896.09H160M148.5 862.37H160M148.5 1157.08H160M148.5 1123.36H160M148.5 1089.64H160M148.5 1055.92H160M148.5 1022.20H160M148.5 1316.91H160M148.5 1283.19H160M148.5 1249.47H160M148.5 1215.75H160M148.5 1182.03H160M148.5 1476.74H160M148.5 1443.02H160M148.5 1409.30H160M148.5 1375.58H160M148.5 1341.86H160M148.5 1636.57H160M148.5 1602.85H160M148.5 1569.13H160M148.5 1535.41H160M148.5 1501.69H160M148.5 1796.40H160M148.5 1762.68H160M148.5 1728.96H160M148.5 1695.24H160M148.5 1661.52H160" stroke="#333" stroke-width="4.2" fill="none"/>
<text x="258.81" y="139.0" font-size="37.8" fill="#1a1a1a" textLength="34.24" lengthAdjust="spacingAndGlyphs">W</text>
<text x="292.96" y="139.0" font-size="37.8" fill="#1a1a1a" textLength="24.48" lengthAdjust="spacingAndGlyphs">T</text>
<text x="328.68" y="139.0" font-size="37.8" fill="#1a1a1a" textLength="20.85" lengthAdjust="spacingAndGlyphs">L</text>
<text x="348.11" y="139.0" font-size="37.8" fill="#1a1a1a" textLength="22.26" lengthAdjust="spacingAndGlyphs">e</text>
<text x="370.55" y="139.0" font-size="37.8" fill="#1a1a1a" textLength="13.46" lengthAdjust="spacingAndGlyphs">f</text>
<text x="384.61" y="139.0" font-size="37.8" fill="#1a1a1a" textLength="20.63" lengthAdjust="spacingAndGlyphs">1</text>
<text x="408.17" y="139.0" font-size="37.8" fill="#1a1a1a" textLength="27.70" lengthAdjust="spacingAndGlyphs">+</text>
<text x="450.05" y="139.0" font-size="37.8" fill="#1a1a1a" textLength="21.60" lengthAdjust="spacingAndGlyphs">P</text>
<text x="470.24" y="139.0" font-size="37.8" fill="#1a1a1a" textLength="18.49" lengthAdjust="spacingAndGlyphs">a</text>
<text x="492.71" y="139.0" font-size="37.8" fill="#1a1a1a" textLength="22.21" lengthAdjust="spacingAndGlyphs">p</text>
<text x="516.22" y="139.0" font-size="37.8" fill="#1a1a1a" textLength="8.37" lengthAdjust="spacingAndGlyphs">i</text>
<text x="526.41" y="139.0" font-size="37.8" fill="#1a1a1a" textLength="8.37" lengthAdjust="spacingAndGlyphs">l</text>
<text x="536.60" y="139.0" font-size="37.8" fill="#1a1a1a" textLength="8.37" lengthAdjust="spacingAndGlyphs">l</text>
<text x="546.55" y="139.0" font-size="37.8" fill="#1a1a1a" textLength="18.49" lengthAdjust="spacingAndGlyphs">a</text>
<text x="568.54" y="139.0" font-size="37.8" fill="#1a1a1a" textLength="15.75" lengthAdjust="spacingAndGlyphs">r</text>
<text x="584.29" y="139.0" font-size="37.8" fill="#1a1a1a" textLength="19.92" lengthAdjust="spacingAndGlyphs">y</text>
<text x="249.04" y="298.83" font-size="37.8" fill="#1a1a1a" textLength="34.24" lengthAdjust="spacingAndGlyphs">W</text>
<text x="283.19" y="298.83" font-size="37.8" fill="#1a1a1a" textLength="24.48" lengthAdjust="spacingAndGlyphs">T</text>
<text x="318.88" y="298.83" font-size="37.8" fill="#1a1a1a" textLength="27.37" lengthAdjust="spacingAndGlyphs">D</text>
<text x="347.28" y="298.83" font-size="37.8" fill="#1a1a1a" textLength="22.21" lengthAdjust="spacingAndGlyphs">p</text>
<text x="370.56" y="298.83" font-size="37.8" fill="#1a1a1a" textLength="22.21" lengthAdjust="spacingAndGlyphs">p</text>
<text x="393.89" y="298.83" font-size="37.8" fill="#1a1a1a" textLength="21.72" lengthAdjust="spacingAndGlyphs">4</text>
<text x="417.93" y="298.83" font-size="37.8" fill="#1a1a1a" textLength="27.70" lengthAdjust="spacingAndGlyphs">+</text>
<text x="459.82" y="298.83" font-size="37.8" fill="#1a1a1a" textLength="21.60" lengthAdjust="spacingAndGlyphs">P</text>
<text x="480.00" y="298.83" font-size="37.8" fill="#1a1a1a" textLength="18.49" lengthAdjust="spacingAndGlyphs">a</text>
<text x="502.47" y="298.83" font-size="37.8" fill="#1a1a1a" textLength="22.21" lengthAdjust="spacingAndGlyphs">p</text>
<text x="525.99" y="298.83" font-size="37.8" fill="#1a1a1a" textLength="8.37" lengthAdjust="spacingAndGlyphs">i</text>
<text x="536.17" y="298.83" font-size="37.8" fill="#1a1a1a" textLength="8.37" lengthAdjust="spacingAndGlyphs">l</text>
<text x="546.36" y="298.83" font-size="37.8" fill="#1a1a1a" textLength="8.37" lengthAdjust="spacingAndGlyphs">l</text>
<text x="556.31" y="298.83" font-size="37.8" fill="#1a1a1a" textLength="18.49" lengthAdjust="spacingAndGlyphs">a</text>
<text x="578.30" y="298.83" font-size="37.8" fill="#1a1a1a" textLength="15.75" lengthAdjust="spacingAndGlyphs">r</text>
<text x="594.05" y="298.83" font-size="37.8" fill="#1a1a1a" textLength="19.92" lengthAdjust="spacingAndGlyphs">y</text>
<text x="241.77" y="458.66" font-size="37.8" fill="#1a1a1a" textLength="18.44" lengthAdjust="spacingAndGlyphs">c</text>
<text x="262.20" y="458.66" font-size="37.8" fill="#1a1a1a" textLength="24.56" lengthAdjust="spacingAndGlyphs">K</text>
<text x="284.00" y="458.66" font-size="37.8" fill="#1a1a1a" textLength="28.21" lengthAdjust="spacingAndGlyphs">O</text>
<text x="324.67" y="458.66" font-size="37.8" fill="#1a1a1a" textLength="27.37" lengthAdjust="spacingAndGlyphs">D</text>
<text x="353.07" y="458.66" font-size="37.8" fill="#1a1a1a" textLength="22.21" lengthAdjust="spacingAndGlyphs">p</text>
<text x="376.35" y="458.66" font-size="37.8" fill="#1a1a1a" textLength="22.21" lengthAdjust="spacingAndGlyphs">p</text>
<text x="399.68" y="458.66" font-size="37.8" fill="#1a1a1a" textLength="21.72" lengthAdjust="spacingAndGlyphs">4</text>
<text x="423.72" y="458.66" font-size="37.8" fill="#1a1a1a" textLength="27.70" lengthAdjust="spacingAndGlyphs">+</text>
<text x="465.61" y="458.66" font-size="37.8" fill="#1a1a1a" textLength="21.60" lengthAdjust="spacingAndGlyphs">P</text>
<text x="485.79" y="458.66" font-size="37.8" fill="#1a1a1a" textLength="18.49" lengthAdjust="spacingAndGlyphs">a</text>
<text x="508.26" y="458.66" font-size="37.8" fill="#1a1a1a" textLength="22.21" lengthAdjust="spacingAndGlyphs">p</text>
<text x="531.78" y="458.66" font-size="37.8" fill="#1a1a1a" textLength="8.37" lengthAdjust="spacingAndGlyphs">i</text>
<text x="541.96" y="458.66" font-size="37.8" fill="#1a1a1a" textLength="8.37" lengthAdjust="spacingAndGlyphs">l</text>
<text x="552.15" y="458.66" font-size="37.8" fill="#1a1a1a" textLength="8.37" lengthAdjust="spacingAndGlyphs">l</text>
<text x="562.10" y="458.66" font-size="37.8" fill="#1a1a1a" textLength="18.49" lengthAdjust="spacingAndGlyphs">a</text>
<text x="584.09" y="458.66" font-size="37.8" fill="#1a1a1a" textLength="15.75" lengthAdjust="spacingAndGlyphs">r</text>
<text x="599.84" y="458.66" font-size="37.8" fill="#1a1a1a" textLength="19.92" lengthAdjust="spacingAndGlyphs">y</text>
<text x="250.35" y="618.49" font-size="37.8" fill="#1a1a1a" textLength="34.24" lengthAdjust="spacingAndGlyphs">W</text>
<text x="284.50" y="618.49" font-size="37.8" fill="#1a1a1a" textLength="24.48" lengthAdjust="spacingAndGlyphs">T</text>
<text x="318.55" y="618.49" font-size="37.8" fill="#1a1a1a" textLength="24.48" lengthAdjust="spacingAndGlyphs">T</text>
<text x="336.68" y="618.49" font-size="37.8" fill="#1a1a1a" textLength="18.49" lengthAdjust="spacingAndGlyphs">a</text>
<text x="358.87" y="618.49" font-size="37.8" fill="#1a1a1a" textLength="22.21" lengthAdjust="spacingAndGlyphs">g</text>
<text x="382.66" y="618.49" font-size="37.8" fill="#1a1a1a" textLength="8.37" lengthAdjust="spacingAndGlyphs">l</text>
<text x="392.63" y="618.49" font-size="37.8" fill="#1a1a1a" textLength="22.07" lengthAdjust="spacingAndGlyphs">n</text>
<text x="416.63" y="618.49" font-size="37.8" fill="#1a1a1a" textLength="27.70" lengthAdjust="spacingAndGlyphs">+</text>
<text x="458.51" y="618.49" font-size="37.8" fill="#1a1a1a" textLength="21.60" lengthAdjust="spacingAndGlyphs">P</text>
<text x="478.70" y="618.49" font-size="37.8" fill="#1a1a1a" textLength="18.49" lengthAdjust="spacingAndGlyphs">a</text>
<text x="501.17" y="618.49" font-size="37.8" fill="#1a1a1a" textLength="22.21" lengthAdjust="spacingAndGlyphs">p</text>
<text x="524.68" y="618.49" font-size="37.8" fill="#1a1a1a" textLength="8.37" lengthAdjust="spacingAndGlyphs">i</text>
<text x="534.87" y="618.49" font-size="37.8" fill="#1a1a1a" textLength="8.37" lengthAdjust="spacingAndGlyphs">l</text>
<text x="545.06" y="618.49" font-size="37.8" fill="#1a1a1a" textLength="8.37" lengthAdjust="spacingAndGlyphs">l</text>
<text x="555.01" y="618.49" font-size="37.8" fill="#1a1a1a" textLength="18.49" lengthAdjust="spacingAndGlyphs">a</text>
<text x="577.00" y="618.49" font-size="37.8" fill="#1a1a1a" textLength="15.75" lengthAdjust="spacingAndGlyphs">r</text>
<text x="592.75" y="618.49" font-size="37.8" fill="#1a1a1a" textLength="19.92" lengthAdjust="spacingAndGlyphs">y</text>
<text x="243.08" y="778.32" font-size="37.8" fill="#1a1a1a" textLength="18.44" lengthAdjust="spacingAndGlyphs">c</text>
<text x="263.51" y="778.32" font-size="37.8" fill="#1a1a1a" textLength="24.56" lengthAdjust="spacingAndGlyphs">K</text>
<text x="285.31" y="778.32" font-size="37.8" fill="#1a1a1a" textLength="28.21" lengthAdjust="spacingAndGlyphs">O</text>
<text x="324.34" y="778.32" font-size="37.8" fill="#1a1a1a" textLength="24.48" lengthAdjust="spacingAndGlyphs">T</text>
<text x="342.47" y="778.32" font-size="37.8" fill="#1a1a1a" textLength="18.49" lengthAdjust="spacingAndGlyphs">a</text>
<text x="364.66" y="778.32" font-size="37.8" fill="#1a1a1a" textLength="22.21" lengthAdjust="spacingAndGlyphs">g</text>
<text x="388.45" y="778.32" font-size="37.8" fill="#1a1a1a" textLength="8.37" lengthAdjust="spacingAndGlyphs">l</text>
<text x="398.42" y="778.32" font-size="37.8" fill="#1a1a1a" textLength="22.07" lengthAdjust="spacingAndGlyphs">n</text>
<text x="422.42" y="778.32" font-size="37.8" fill="#1a1a1a" textLength="27.70" lengthAdjust="spacingAndGlyphs">+</text>
<text x="464.30" y="778.32" font-size="37.8" fill="#1a1a1a" textLength="21.60" lengthAdjust="spacingAndGlyphs">P</text>
<text x="484.49" y="778.32" font-size="37.8" fill="#1a1a1a" textLength="18.49" lengthAdjust="spacingAndGlyphs">a</text>
<text x="506.96" y="778.32" font-size="37.8" fill="#1a1a1a" textLength="22.21" lengthAdjust="spacingAndGlyphs">p</text>
<text x="530.47" y="778.32" font-size="37.8" fill="#1a1a1a" textLength="8.37" lengthAdjust="spacingAndGlyphs">i</text>
<text x="540.66" y="778.32" font-size="37.8" fill="#1a1a1a" textLength="8.37" lengthAdjust="spacingAndGlyphs">l</text>
<text x="550.85" y="778.32" font-size="37.8" fill="#1a1a1a" textLength="8.37" lengthAdjust="spacingAndGlyphs">l</text>
<text x="560.80" y="778.32" font-size="37.8" fill="#1a1a1a" textLength="18.49" lengthAdjust="spacingAndGlyphs">a</text>
<text x="582.79" y="778.32" font-size="37.8" fill="#1a1a1a" textLength="15.75" lengthAdjust="spacingAndGlyphs">r</text>
<text x="598.54" y="778.32" font-size="37.8" fill="#1a1a1a" textLength="19.92" lengthAdjust="spacingAndGlyphs">y</text>
<text x="193.46" y="938.15" font-size="37.8" fill="#1a1a1a" textLength="34.24" lengthAdjust="spacingAndGlyphs">W</text>
<text x="227.61" y="938.15" font-size="37.8" fill="#1a1a1a" textLength="24.48" lengthAdjust="spacingAndGlyphs">T</text>
<text x="262.86" y="938.15" font-size="37.8" fill="#1a1a1a" textLength="10.73" lengthAdjust="spacingAndGlyphs">I</text>
<text x="274.29" y="938.15" font-size="37.8" fill="#1a1a1a" textLength="22.07" lengthAdjust="spacingAndGlyphs">n</text>
<text x="297.30" y="938.15" font-size="37.8" fill="#1a1a1a" textLength="22.34" lengthAdjust="spacingAndGlyphs">h</text>
<text x="320.75" y="938.15" font-size="37.8" fill="#1a1a1a" textLength="22.21" lengthAdjust="spacingAndGlyphs">b</text>
<text x="344.03" y="938.15" font-size="37.8" fill="#1a1a1a" textLength="18.49" lengthAdjust="spacingAndGlyphs">a</text>
<text x="367.27" y="938.15" font-size="37.8" fill="#1a1a1a" textLength="27.70" lengthAdjust="spacingAndGlyphs">+</text>
<text x="408.72" y="938.15" font-size="37.8" fill="#1a1a1a" textLength="27.37" lengthAdjust="spacingAndGlyphs">D</text>
<text x="436.62" y="938.15" font-size="37.8" fill="#1a1a1a" textLength="22.26" lengthAdjust="spacingAndGlyphs">e</text>
<text x="459.19" y="938.15" font-size="37.8" fill="#1a1a1a" textLength="15.75" lengthAdjust="spacingAndGlyphs">r</text>
<text x="473.97" y="938.15" font-size="37.8" fill="#1a1a1a" textLength="34.91" lengthAdjust="spacingAndGlyphs">m</text>
<text x="509.82" y="938.15" font-size="37.8" fill="#1a1a1a" textLength="18.49" lengthAdjust="spacingAndGlyphs">a</text>
<text x="532.53" y="938.15" font-size="37.8" fill="#1a1a1a" textLength="8.37" lengthAdjust="spacingAndGlyphs">l</text>
<text x="554.41" y="938.15" font-size="37.8" fill="#1a1a1a" textLength="21.60" lengthAdjust="spacingAndGlyphs">P</text>
<text x="574.60" y="938.15" font-size="37.8" fill="#1a1a1a" textLength="18.49" lengthAdjust="spacingAndGlyphs">a</text>
<text x="597.07" y="938.15" font-size="37.8" fill="#1a1a1a" textLength="22.21" lengthAdjust="spacingAndGlyphs">p</text>
<text x="620.58" y="938.15" font-size="37.8" fill="#1a1a1a" textLength="8.37" lengthAdjust="spacingAndGlyphs">i</text>
<text x="630.77" y="938.15" font-size="37.8" fill="#1a1a1a" textLength="8.37" lengthAdjust="spacingAndGlyphs">l</text>
<text x="640.96" y="938.15" font-size="37.8" fill="#1a1a1a" textLength="8.37" lengthAdjust="spacingAndGlyphs">l</text>
<text x="650.91" y="938.15" font-size="37.8" fill="#1a1a1a" textLength="18.49" lengthAdjust="spacingAndGlyphs">a</text>
<text x="186.19" y="1097.98" font-size="37.8" fill="#1a1a1a" textLength="18.44" lengthAdjust="spacingAndGlyphs">c</text>
<text x="206.62" y="1097.98" font-size="37.8" fill="#1a1a1a" textLength="24.56" lengthAdjust="spacingAndGlyphs">K</text>
<text x="228.42" y="1097.98" font-size="37.8" fill="#1a1a1a" textLength="28.21" lengthAdjust="spacingAndGlyphs">O</text>
<text x="268.65" y="1097.98" font-size="37.8" fill="#1a1a1a" textLength="10.73" lengthAdjust="spacingAndGlyphs">I</text>
<text x="280.08" y="1097.98" font-size="37.8" fill="#1a1a1a" textLength="22.07" lengthAdjust="spacingAndGlyphs">n</text>
<text x="303.09" y="1097.98" font-size="37.8" fill="#1a1a1a" textLength="22.34" lengthAdjust="spacingAndGlyphs">h</text>
<text x="326.54" y="1097.98" font-size="37.8" fill="#1a1a1a" textLength="22.21" lengthAdjust="spacingAndGlyphs">b</text>
<text x="349.82" y="1097.98" font-size="37.8" fill="#1a1a1a" textLength="18.49" lengthAdjust="spacingAndGlyphs">a</text>
<text x="373.06" y="1097.98" font-size="37.8" fill="#1a1a1a" textLength="27.70" lengthAdjust="spacingAndGlyphs">+</text>
<text x="414.51" y="1097.98" font-size="37.8" fill="#1a1a1a" textLength="27.37" lengthAdjust="spacingAndGlyphs">D</text>
<text x="442.41" y="1097.98" font-size="37.8" fill="#1a1a1a" textLength="22.26" lengthAdjust="spacingAndGlyphs">e</text>
<text x="464.98" y="1097.98" font-size="37.8" fill="#1a1a1a" textLength="15.75" lengthAdjust="spacingAndGlyphs">r</text>
<text x="479.76" y="1097.98" font-size="37.8" fill="#1a1a1a" textLength="34.91" lengthAdjust="spacingAndGlyphs">m</text>
<text x="515.61" y="1097.98" font-size="37.8" fill="#1a1a1a" textLength="18.49" lengthAdjust="spacingAndGlyphs">a</text>
<text x="538.32" y="1097.98" font-size="37.8" fill="#1a1a1a" textLength="8.37" lengthAdjust="spacingAndGlyphs">l</text>
<text x="560.21" y="1097.98" font-size="37.8" fill="#1a1a1a" textLength="21.60" lengthAdjust="spacingAndGlyphs">P</text>
<text x="580.39" y="1097.98" font-size="37.8" fill="#1a1a1a" textLength="18.49" lengthAdjust="spacingAndGlyphs">a</text>
<text x="602.86" y="1097.98" font-size="37.8" fill="#1a1a1a" textLength="22.21" lengthAdjust="spacingAndGlyphs">p</text>
<text x="626.37" y="1097.98" font-size="37.8" fill="#1a1a1a" textLength="8.37" lengthAdjust="spacingAndGlyphs">i</text>
<text x="636.56" y="1097.98" font-size="37.8" fill="#1a1a1a" textLength="8.37" lengthAdjust="spacingAndGlyphs">l</text>
<text x="646.75" y="1097.98" font-size="37.8" fill="#1a1a1a" textLength="8.37" lengthAdjust="spacingAndGlyphs">l</text>
<text x="656.70" y="1097.98" font-size="37.8" fill="#1a1a1a" textLength="18.49" lengthAdjust="spacingAndGlyphs">a</text>
<text x="253.01" y="1257.81" font-size="37.8" fill="#1a1a1a" textLength="34.24" lengthAdjust="spacingAndGlyphs">W</text>
<text x="287.16" y="1257.81" font-size="37.8" fill="#1a1a1a" textLength="24.48" lengthAdjust="spacingAndGlyphs">T</text>
<text x="322.85" y="1257.81" font-size="37.8" fill="#1a1a1a" textLength="27.37" lengthAdjust="spacingAndGlyphs">D</text>
<text x="351.49" y="1257.81" font-size="37.8" fill="#1a1a1a" textLength="8.37" lengthAdjust="spacingAndGlyphs">l</text>
<text x="361.37" y="1257.81" font-size="37.8" fill="#1a1a1a" textLength="20.44" lengthAdjust="spacingAndGlyphs">k</text>
<text x="383.22" y="1257.81" font-size="37.8" fill="#1a1a1a" textLength="20.63" lengthAdjust="spacingAndGlyphs">1</text>
<text x="406.77" y="1257.81" font-size="37.8" fill="#1a1a1a" textLength="27.70" lengthAdjust="spacingAndGlyphs">+</text>
<text x="448.43" y="1257.81" font-size="37.8" fill="#1a1a1a" textLength="25.47" lengthAdjust="spacingAndGlyphs">R</text>
<text x="471.72" y="1257.81" font-size="37.8" fill="#1a1a1a" textLength="22.26" lengthAdjust="spacingAndGlyphs">e</text>
<text x="494.33" y="1257.81" font-size="37.8" fill="#1a1a1a" textLength="13.69" lengthAdjust="spacingAndGlyphs">t</text>
<text x="509.38" y="1257.81" font-size="37.8" fill="#1a1a1a" textLength="8.37" lengthAdjust="spacingAndGlyphs">i</text>
<text x="518.99" y="1257.81" font-size="37.8" fill="#1a1a1a" textLength="18.44" lengthAdjust="spacingAndGlyphs">c</text>
<text x="539.34" y="1257.81" font-size="37.8" fill="#1a1a1a" textLength="21.95" lengthAdjust="spacingAndGlyphs">u</text>
<text x="562.97" y="1257.81" font-size="37.8" fill="#1a1a1a" textLength="8.37" lengthAdjust="spacingAndGlyphs">l</text>
<text x="572.92" y="1257.81" font-size="37.8" fill="#1a1a1a" textLength="18.49" lengthAdjust="spacingAndGlyphs">a</text>
<text x="594.91" y="1257.81" font-size="37.8" fill="#1a1a1a" textLength="15.75" lengthAdjust="spacingAndGlyphs">r</text>
<text x="245.74" y="1417.64" font-size="37.8" fill="#1a1a1a" textLength="18.44" lengthAdjust="spacingAndGlyphs">c</text>
<text x="266.17" y="1417.64" font-size="37.8" fill="#1a1a1a" textLength="24.56" lengthAdjust="spacingAndGlyphs">K</text>
<text x="287.97" y="1417.64" font-size="37.8" fill="#1a1a1a" textLength="28.21" lengthAdjust="spacingAndGlyphs">O</text>
<text x="328.64" y="1417.64" font-size="37.8" fill="#1a1a1a" textLength="27.37" lengthAdjust="spacingAndGlyphs">D</text>
<text x="357.28" y="1417.64" font-size="37.8" fill="#1a1a1a" textLength="8.37" lengthAdjust="spacingAndGlyphs">l</text>
<text x="367.16" y="1417.64" font-size="37.8" fill="#1a1a1a" textLength="20.44" lengthAdjust="spacingAndGlyphs">k</text>
<text x="389.01" y="1417.64" font-size="37.8" fill="#1a1a1a" textLength="20.63" lengthAdjust="spacingAndGlyphs">1</text>
<text x="412.56" y="1417.64" font-size="37.8" fill="#1a1a1a" textLength="27.70" lengthAdjust="spacingAndGlyphs">+</text>
<text x="454.22" y="1417.64" font-size="37.8" fill="#1a1a1a" textLength="25.47" lengthAdjust="spacingAndGlyphs">R</text>
<text x="477.51" y="1417.64" font-size="37.8" fill="#1a1a1a" textLength="22.26" lengthAdjust="spacingAndGlyphs">e</text>
<text x="500.12" y="1417.64" font-size="37.8" fill="#1a1a1a" textLength="13.69" lengthAdjust="spacingAndGlyphs">t</text>
<text x="515.17" y="1417.64" font-size="37.8" fill="#1a1a1a" textLength="8.37" lengthAdjust="spacingAndGlyphs">i</text>
<text x="524.78" y="1417.64" font-size="37.8" fill="#1a1a1a" textLength="18.44" lengthAdjust="spacingAndGlyphs">c</text>
<text x="545.13" y="1417.64" font-size="37.8" fill="#1a1a1a" textLength="21.95" lengthAdjust="spacingAndGlyphs">u</text>
<text x="568.76" y="1417.64" font-size="37.8" fill="#1a1a1a" textLength="8.37" lengthAdjust="spacingAndGlyphs">l</text>
<text x="578.71" y="1417.64" font-size="37.8" fill="#1a1a1a" textLength="18.49" lengthAdjust="spacingAndGlyphs">a</text>
<text x="600.70" y="1417.64" font-size="37.8" fill="#1a1a1a" textLength="15.75" lengthAdjust="spacingAndGlyphs">r</text>
<text x="185.31" y="1577.47" font-size="37.8" fill="#1a1a1a" textLength="34.24" lengthAdjust="spacingAndGlyphs">W</text>
<text x="219.46" y="1577.47" font-size="37.8" fill="#1a1a1a" textLength="24.48" lengthAdjust="spacingAndGlyphs">T</text>
<text x="255.67" y="1577.47" font-size="37.8" fill="#1a1a1a" textLength="19.20" lengthAdjust="spacingAndGlyphs">F</text>
<text x="273.03" y="1577.47" font-size="37.8" fill="#1a1a1a" textLength="18.49" lengthAdjust="spacingAndGlyphs">a</text>
<text x="295.50" y="1577.47" font-size="37.8" fill="#1a1a1a" textLength="22.21" lengthAdjust="spacingAndGlyphs">b</text>
<text x="318.78" y="1577.47" font-size="37.8" fill="#1a1a1a" textLength="22.21" lengthAdjust="spacingAndGlyphs">p</text>
<text x="342.12" y="1577.47" font-size="37.8" fill="#1a1a1a" textLength="21.72" lengthAdjust="spacingAndGlyphs">4</text>
<text x="366.16" y="1577.47" font-size="37.8" fill="#1a1a1a" textLength="27.70" lengthAdjust="spacingAndGlyphs">+</text>
<text x="408.04" y="1577.47" font-size="37.8" fill="#1a1a1a" textLength="21.60" lengthAdjust="spacingAndGlyphs">P</text>
<text x="428.75" y="1577.47" font-size="37.8" fill="#1a1a1a" textLength="15.75" lengthAdjust="spacingAndGlyphs">r</text>
<text x="443.01" y="1577.47" font-size="37.8" fill="#1a1a1a" textLength="22.26" lengthAdjust="spacingAndGlyphs">e</text>
<text x="465.31" y="1577.47" font-size="37.8" fill="#1a1a1a" textLength="13.21" lengthAdjust="spacingAndGlyphs">-</text>
<text x="477.87" y="1577.47" font-size="37.8" fill="#1a1a1a" textLength="24.74" lengthAdjust="spacingAndGlyphs">A</text>
<text x="502.64" y="1577.47" font-size="37.8" fill="#1a1a1a" textLength="22.21" lengthAdjust="spacingAndGlyphs">d</text>
<text x="526.44" y="1577.47" font-size="37.8" fill="#1a1a1a" textLength="8.37" lengthAdjust="spacingAndGlyphs">i</text>
<text x="536.39" y="1577.47" font-size="37.8" fill="#1a1a1a" textLength="22.21" lengthAdjust="spacingAndGlyphs">p</text>
<text x="559.42" y="1577.47" font-size="37.8" fill="#1a1a1a" textLength="21.57" lengthAdjust="spacingAndGlyphs">o</text>
<text x="581.75" y="1577.47" font-size="37.8" fill="#1a1a1a" textLength="18.44" lengthAdjust="spacingAndGlyphs">c</text>
<text x="602.45" y="1577.47" font-size="37.8" fill="#1a1a1a" textLength="19.92" lengthAdjust="spacingAndGlyphs">y</text>
<text x="623.52" y="1577.47" font-size="37.8" fill="#1a1a1a" textLength="13.69" lengthAdjust="spacingAndGlyphs">t</text>
<text x="637.85" y="1577.47" font-size="37.8" fill="#1a1a1a" textLength="22.26" lengthAdjust="spacingAndGlyphs">e</text>
<text x="661.05" y="1577.47" font-size="37.8" fill="#1a1a1a" textLength="17.70" lengthAdjust="spacingAndGlyphs">s</text>
<text x="178.04" y="1737.3" font-size="37.8" fill="#1a1a1a" textLength="18.44" lengthAdjust="spacingAndGlyphs">c</text>
<text x="198.47" y="1737.3" font-size="37.8" fill="#1a1a1a" textLength="24.56" lengthAdjust="spacingAndGlyphs">K</text>
<text x="220.26" y="1737.3" font-size="37.8" fill="#1a1a1a" textLength="28.21" lengthAdjust="spacingAndGlyphs">O</text>
<text x="261.46" y="1737.3" font-size="37.8" fill="#1a1a1a" textLength="19.20" lengthAdjust="spacingAndGlyphs">F</text>
<text x="278.82" y="1737.3" font-size="37.8" fill="#1a1a1a" textLength="18.49" lengthAdjust="spacingAndGlyphs">a</text>
<text x="301.30" y="1737.3" font-size="37.8" fill="#1a1a1a" textLength="22.21" lengthAdjust="spacingAndGlyphs">b</text>
<text x="324.57" y="1737.3" font-size="37.8" fill="#1a1a1a" textLength="22.21" lengthAdjust="spacingAndGlyphs">p</text>
<text x="347.91" y="1737.3" font-size="37.8" fill="#1a1a1a" textLength="21.72" lengthAdjust="spacingAndGlyphs">4</text>
<text x="371.95" y="1737.3" font-size="37.8" fill="#1a1a1a" textLength="27.70" lengthAdjust="spacingAndGlyphs">+</text>
<text x="413.83" y="1737.3" font-size="37.8" fill="#1a1a1a" textLength="21.60" lengthAdjust="spacingAndGlyphs">P</text>
<text x="434.54" y="1737.3" font-size="37.8" fill="#1a1a1a" textLength="15.75" lengthAdjust="spacingAndGlyphs">r</text>
<text x="448.80" y="1737.3" font-size="37.8" fill="#1a1a1a" textLength="22.26" lengthAdjust="spacingAndGlyphs">e</text>
<text x="471.10" y="1737.3" font-size="37.8" fill="#1a1a1a" textLength="13.21" lengthAdjust="spacingAndGlyphs">-</text>
<text x="483.66" y="1737.3" font-size="37.8" fill="#1a1a1a" textLength="24.74" lengthAdjust="spacingAndGlyphs">A</text>
<text x="508.43" y="1737.3" font-size="37.8" fill="#1a1a1a" textLength="22.21" lengthAdjust="spacingAndGlyphs">d</text>
<text x="532.23" y="1737.3" font-size="37.8" fill="#1a1a1a" textLength="8.37" lengthAdjust="spacingAndGlyphs">i</text>
<text x="542.18" y="1737.3" font-size="37.8" fill="#1a1a1a" textLength="22.21" lengthAdjust="spacingAndGlyphs">p</text>
<text x="565.21" y="1737.3" font-size="37.8" fill="#1a1a1a" textLength="21.57" lengthAdjust="spacingAndGlyphs">o</text>
<text x="587.54" y="1737.3" font-size="37.8" fill="#1a1a1a" textLength="18.44" lengthAdjust="spacingAndGlyphs">c</text>
<text x="608.24" y="1737.3" font-size="37.8" fill="#1a1a1a" textLength="19.92" lengthAdjust="spacingAndGlyphs">y</text>
<text x="629.31" y="1737.3" font-size="37.8" fill="#1a1a1a" textLength="13.69" lengthAdjust="spacingAndGlyphs">t</text>
<text x="643.64" y="1737.3" font-size="37.8" fill="#1a1a1a" textLength="22.26" lengthAdjust="spacingAndGlyphs">e</text>
<text x="666.84" y="1737.3" font-size="37.8" fill="#1a1a1a" textLength="17.70" lengthAdjust="spacingAndGlyphs">s</text>
<text transform="translate(79.0 1136.21) rotate(-90)" x="0" y="0" font-size="48.0" fill="#000" textLength="32.61" lengthAdjust="spacingAndGlyphs">N</text>
<text transform="translate(79.0 1102.24) rotate(-90)" x="0" y="0" font-size="48.0" fill="#000" textLength="26.93" lengthAdjust="spacingAndGlyphs">o</text>
<text transform="translate(79.0 1074.54) rotate(-90)" x="0" y="0" font-size="48.0" fill="#000" textLength="19.66" lengthAdjust="spacingAndGlyphs">r</text>
<text transform="translate(79.0 1056.09) rotate(-90)" x="0" y="0" font-size="48.0" fill="#000" textLength="43.58" lengthAdjust="spacingAndGlyphs">m</text>
<text transform="translate(79.0 1011.34) rotate(-90)" x="0" y="0" font-size="48.0" fill="#000" textLength="23.09" lengthAdjust="spacingAndGlyphs">a</text>
<text transform="translate(79.0 982.99) rotate(-90)" x="0" y="0" font-size="48.0" fill="#000" textLength="10.45" lengthAdjust="spacingAndGlyphs">l</text>
<text transform="translate(79.0 970.28) rotate(-90)" x="0" y="0" font-size="48.0" fill="#000" textLength="10.45" lengthAdjust="spacingAndGlyphs">i</text>
<text transform="translate(79.0 958.75) rotate(-90)" x="0" y="0" font-size="48.0" fill="#000" textLength="24.56" lengthAdjust="spacingAndGlyphs">z</text>
<text transform="translate(79.0 934.44) rotate(-90)" x="0" y="0" font-size="48.0" fill="#000" textLength="27.78" lengthAdjust="spacingAndGlyphs">e</text>
<text transform="translate(79.0 906.02) rotate(-90)" x="0" y="0" font-size="48.0" fill="#000" textLength="27.72" lengthAdjust="spacingAndGlyphs">d</text>
<text transform="translate(79.0 861.87) rotate(-90)" x="0" y="0" font-size="48.0" fill="#000" textLength="22.10" lengthAdjust="spacingAndGlyphs">s</text>
<text transform="translate(79.0 837.92) rotate(-90)" x="0" y="0" font-size="48.0" fill="#000" textLength="10.45" lengthAdjust="spacingAndGlyphs">i</text>
<text transform="translate(79.0 825.86) rotate(-90)" x="0" y="0" font-size="48.0" fill="#000" textLength="27.72" lengthAdjust="spacingAndGlyphs">g</text>
<text transform="translate(79.0 796.43) rotate(-90)" x="0" y="0" font-size="48.0" fill="#000" textLength="27.55" lengthAdjust="spacingAndGlyphs">n</text>
<text transform="translate(79.0 767.44) rotate(-90)" x="0" y="0" font-size="48.0" fill="#000" textLength="23.09" lengthAdjust="spacingAndGlyphs">a</text>
<text transform="translate(79.0 739.09) rotate(-90)" x="0" y="0" font-size="48.0" fill="#000" textLength="10.45" lengthAdjust="spacingAndGlyphs">l</text>
<text transform="translate(128.1 1087.93) rotate(-90)" x="0" y="0" font-size="48.0" fill="#000" textLength="12.91" lengthAdjust="spacingAndGlyphs">(</text>
<text transform="translate(128.1 1071.39) rotate(-90)" x="0" y="0" font-size="48.0" fill="#000" textLength="19.61" lengthAdjust="spacingAndGlyphs">r</text>
<text transform="translate(128.1 1052.03) rotate(-90)" x="0" y="0" font-size="48.0" fill="#000" textLength="23.02" lengthAdjust="spacingAndGlyphs">a</text>
<text transform="translate(128.1 1024.04) rotate(-90)" x="0" y="0" font-size="48.0" fill="#000" textLength="27.48" lengthAdjust="spacingAndGlyphs">n</text>
<text transform="translate(128.1 995.48) rotate(-90)" x="0" y="0" font-size="48.0" fill="#000" textLength="27.64" lengthAdjust="spacingAndGlyphs">g</text>
<text transform="translate(128.1 966.77) rotate(-90)" x="0" y="0" font-size="48.0" fill="#000" textLength="27.71" lengthAdjust="spacingAndGlyphs">e</text>
<text transform="translate(128.1 923.42) rotate(-90)" x="0" y="0" font-size="48.0" fill="#000" textLength="26.99" lengthAdjust="spacingAndGlyphs">0</text>
<text transform="translate(128.1 880.95) rotate(-90)" x="0" y="0" font-size="48.0" fill="#000" textLength="16.44" lengthAdjust="spacingAndGlyphs">-</text>
<text transform="translate(128.1 848.96) rotate(-90)" x="0" y="0" font-size="48.0" fill="#000" textLength="27.04" lengthAdjust="spacingAndGlyphs">4</text>
<text transform="translate(128.1 820.40) rotate(-90)" x="0" y="0" font-size="48.0" fill="#000" textLength="13.69" lengthAdjust="spacingAndGlyphs">.</text>
<text transform="translate(128.1 804.81) rotate(-90)" x="0" y="0" font-size="48.0" fill="#000" textLength="26.06" lengthAdjust="spacingAndGlyphs">3</text>
<text transform="translate(128.1 774.06) rotate(-90)" x="0" y="0" font-size="48.0" fill="#000" textLength="13.16" lengthAdjust="spacingAndGlyphs">)</text>
<text transform="translate(79.1 2013.63) rotate(-90)" x="0" y="0" font-size="48.0" fill="#000" textLength="26.93" lengthAdjust="spacingAndGlyphs">P</text>
<text transform="translate(79.1 1988.65) rotate(-90)" x="0" y="0" font-size="48.0" fill="#000" textLength="27.75" lengthAdjust="spacingAndGlyphs">e</text>
<text transform="translate(79.1 1959.91) rotate(-90)" x="0" y="0" font-size="48.0" fill="#000" textLength="23.06" lengthAdjust="spacingAndGlyphs">a</text>
<text transform="translate(79.1 1931.97) rotate(-90)" x="0" y="0" font-size="48.0" fill="#000" textLength="25.49" lengthAdjust="spacingAndGlyphs">k</text>
<text transform="translate(79.1 1905.23) rotate(-90)" x="0" y="0" font-size="48.0" fill="#000" textLength="22.07" lengthAdjust="spacingAndGlyphs">s</text>
<text transform="translate(79.1 2336.83) rotate(-90)" x="0" y="0" font-size="48.0" fill="#000" textLength="42.80" lengthAdjust="spacingAndGlyphs">W</text>
<text transform="translate(79.1 2294.14) rotate(-90)" x="0" y="0" font-size="48.0" fill="#000" textLength="30.60" lengthAdjust="spacingAndGlyphs">T</text>
<text transform="translate(79.1 2249.49) rotate(-90)" x="0" y="0" font-size="48.0" fill="#000" textLength="26.06" lengthAdjust="spacingAndGlyphs">L</text>
<text transform="translate(79.1 2223.50) rotate(-90)" x="0" y="0" font-size="48.0" fill="#000" textLength="10.47" lengthAdjust="spacingAndGlyphs">i</text>
<text transform="translate(79.1 2211.04) rotate(-90)" x="0" y="0" font-size="48.0" fill="#000" textLength="27.59" lengthAdjust="spacingAndGlyphs">n</text>
<text transform="translate(79.1 2182.09) rotate(-90)" x="0" y="0" font-size="48.0" fill="#000" textLength="25.55" lengthAdjust="spacingAndGlyphs">k</text>
<text transform="translate(79.1 2155.28) rotate(-90)" x="0" y="0" font-size="48.0" fill="#000" textLength="22.12" lengthAdjust="spacingAndGlyphs">s</text>
<text transform="translate(79.1 2589.27) rotate(-90)" x="0" y="0" font-size="48.0" fill="#000" textLength="30.63" lengthAdjust="spacingAndGlyphs">K</text>
<text transform="translate(79.1 2562.09) rotate(-90)" x="0" y="0" font-size="48.0" fill="#000" textLength="35.18" lengthAdjust="spacingAndGlyphs">O</text>
<text transform="translate(79.1 2511.33) rotate(-90)" x="0" y="0" font-size="48.0" fill="#000" textLength="26.00" lengthAdjust="spacingAndGlyphs">L</text>
<text transform="translate(79.1 2485.40) rotate(-90)" x="0" y="0" font-size="48.0" fill="#000" textLength="10.44" lengthAdjust="spacingAndGlyphs">i</text>
<text transform="translate(79.1 2472.97) rotate(-90)" x="0" y="0" font-size="48.0" fill="#000" textLength="27.53" lengthAdjust="spacingAndGlyphs">n</text>
<text transform="translate(79.1 2444.08) rotate(-90)" x="0" y="0" font-size="48.0" fill="#000" textLength="25.49" lengthAdjust="spacingAndGlyphs">k</text>
<text transform="translate(79.1 2417.33) rotate(-90)" x="0" y="0" font-size="48.0" fill="#000" textLength="22.07" lengthAdjust="spacingAndGlyphs">s</text>
<text transform="translate(79.1 2819.42) rotate(-90)" x="0" y="0" font-size="48.0" fill="#000" textLength="34.55" lengthAdjust="spacingAndGlyphs">G</text>
<text transform="translate(79.1 2784.08) rotate(-90)" x="0" y="0" font-size="48.0" fill="#000" textLength="27.70" lengthAdjust="spacingAndGlyphs">e</text>
<text transform="translate(79.1 2755.37) rotate(-90)" x="0" y="0" font-size="48.0" fill="#000" textLength="27.47" lengthAdjust="spacingAndGlyphs">n</text>
<text transform="translate(79.1 2727.07) rotate(-90)" x="0" y="0" font-size="48.0" fill="#000" textLength="27.70" lengthAdjust="spacingAndGlyphs">e</text>
<text transform="translate(79.1 2698.19) rotate(-90)" x="0" y="0" font-size="48.0" fill="#000" textLength="22.03" lengthAdjust="spacingAndGlyphs">s</text>
<line x1="160" x2="160" y1="1861.2" y2="2036.6" stroke="#000" stroke-width="4.2"/>
<line x1="703.6" x2="2354.2" y1="2036.6" y2="2036.6" stroke="#000" stroke-width="4.2"/>
<line x1="2278.55" x2="2278.55" y1="1939.9" y2="1958.0" stroke="#696969" stroke-width="1.1"/>
<line x1="160" x2="160" y1="2648.1" y2="2847.2" stroke="#000" stroke-width="4.2"/>
<line x1="703.6" x2="2354.2" y1="2847.2" y2="2847.2" stroke="#000" stroke-width="4.2"/>
<path d="M977.5 2036.6V2048.1M1318.8 2036.6V2048.1M1660 2036.6V2048.1M2000.9 2036.6V2048.1M2342.0 2036.6V2048.1" stroke="#333" stroke-width="4.2" fill="none"/>
<text x="884.95" y="2083.0" font-size="37.1" fill="#4d4d4d" textLength="22.15" lengthAdjust="spacingAndGlyphs">9</text>
<text x="908.57" y="2083.0" font-size="37.1" fill="#4d4d4d" textLength="20.84" lengthAdjust="spacingAndGlyphs">2</text>
<text x="931.93" y="2083.0" font-size="37.1" fill="#4d4d4d" textLength="21.68" lengthAdjust="spacingAndGlyphs">0</text>
<text x="955.69" y="2083.0" font-size="37.1" fill="#4d4d4d" textLength="20.63" lengthAdjust="spacingAndGlyphs">1</text>
<text x="979.15" y="2083.0" font-size="37.1" fill="#4d4d4d" textLength="20.29" lengthAdjust="spacingAndGlyphs">5</text>
<text x="1001.92" y="2083.0" font-size="37.1" fill="#4d4d4d" textLength="21.68" lengthAdjust="spacingAndGlyphs">0</text>
<text x="1025.25" y="2083.0" font-size="37.1" fill="#4d4d4d" textLength="21.68" lengthAdjust="spacingAndGlyphs">0</text>
<text x="1048.58" y="2083.0" font-size="37.1" fill="#4d4d4d" textLength="21.68" lengthAdjust="spacingAndGlyphs">0</text>
<text x="1226.25" y="2083.0" font-size="37.1" fill="#4d4d4d" textLength="22.15" lengthAdjust="spacingAndGlyphs">9</text>
<text x="1249.87" y="2083.0" font-size="37.1" fill="#4d4d4d" textLength="20.84" lengthAdjust="spacingAndGlyphs">2</text>
<text x="1273.23" y="2083.0" font-size="37.1" fill="#4d4d4d" textLength="21.68" lengthAdjust="spacingAndGlyphs">0</text>
<text x="1296.52" y="2083.0" font-size="37.1" fill="#4d4d4d" textLength="20.84" lengthAdjust="spacingAndGlyphs">2</text>
<text x="1319.89" y="2083.0" font-size="37.1" fill="#4d4d4d" textLength="21.68" lengthAdjust="spacingAndGlyphs">0</text>
<text x="1343.22" y="2083.0" font-size="37.1" fill="#4d4d4d" textLength="21.68" lengthAdjust="spacingAndGlyphs">0</text>
<text x="1366.55" y="2083.0" font-size="37.1" fill="#4d4d4d" textLength="21.68" lengthAdjust="spacingAndGlyphs">0</text>
<text x="1389.88" y="2083.0" font-size="37.1" fill="#4d4d4d" textLength="21.68" lengthAdjust="spacingAndGlyphs">0</text>
<text x="1567.45" y="2083.0" font-size="37.1" fill="#4d4d4d" textLength="22.15" lengthAdjust="spacingAndGlyphs">9</text>
<text x="1591.07" y="2083.0" font-size="37.1" fill="#4d4d4d" textLength="20.84" lengthAdjust="spacingAndGlyphs">2</text>
<text x="1614.43" y="2083.0" font-size="37.1" fill="#4d4d4d" textLength="21.68" lengthAdjust="spacingAndGlyphs">0</text>
<text x="1637.72" y="2083.0" font-size="37.1" fill="#4d4d4d" textLength="20.84" lengthAdjust="spacingAndGlyphs">2</text>
<text x="1661.65" y="2083.0" font-size="37.1" fill="#4d4d4d" textLength="20.29" lengthAdjust="spacingAndGlyphs">5</text>
<text x="1684.42" y="2083.0" font-size="37.1" fill="#4d4d4d" textLength="21.68" lengthAdjust="spacingAndGlyphs">0</text>
<text x="1707.75" y="2083.0" font-size="37.1" fill="#4d4d4d" textLength="21.68" lengthAdjust="spacingAndGlyphs">0</text>
<text x="1731.08" y="2083.0" font-size="37.1" fill="#4d4d4d" textLength="21.68" lengthAdjust="spacingAndGlyphs">0</text>
<text x="1908.35" y="2083.0" font-size="37.1" fill="#4d4d4d" textLength="22.15" lengthAdjust="spacingAndGlyphs">9</text>
<text x="1931.97" y="2083.0" font-size="37.1" fill="#4d4d4d" textLength="20.84" lengthAdjust="spacingAndGlyphs">2</text>
<text x="1955.33" y="2083.0" font-size="37.1" fill="#4d4d4d" textLength="21.68" lengthAdjust="spacingAndGlyphs">0</text>
<text x="1979.08" y="2083.0" font-size="37.1" fill="#4d4d4d" textLength="20.94" lengthAdjust="spacingAndGlyphs">3</text>
<text x="2001.99" y="2083.0" font-size="37.1" fill="#4d4d4d" textLength="21.68" lengthAdjust="spacingAndGlyphs">0</text>
<text x="2025.32" y="2083.0" font-size="37.1" fill="#4d4d4d" textLength="21.68" lengthAdjust="spacingAndGlyphs">0</text>
<text x="2048.65" y="2083.0" font-size="37.1" fill="#4d4d4d" textLength="21.68" lengthAdjust="spacingAndGlyphs">0</text>
<text x="2071.98" y="2083.0" font-size="37.1" fill="#4d4d4d" textLength="21.68" lengthAdjust="spacingAndGlyphs">0</text>
<text x="2249.45" y="2083.0" font-size="37.1" fill="#4d4d4d" textLength="22.15" lengthAdjust="spacingAndGlyphs">9</text>
<text x="2273.07" y="2083.0" font-size="37.1" fill="#4d4d4d" textLength="20.84" lengthAdjust="spacingAndGlyphs">2</text>
<text x="2296.43" y="2083.0" font-size="37.1" fill="#4d4d4d" textLength="21.68" lengthAdjust="spacingAndGlyphs">0</text>
<text x="2320.18" y="2083.0" font-size="37.1" fill="#4d4d4d" textLength="20.94" lengthAdjust="spacingAndGlyphs">3</text>
<text x="2343.65" y="2083.0" font-size="37.1" fill="#4d4d4d" textLength="20.29" lengthAdjust="spacingAndGlyphs">5</text>
<text x="2366.42" y="2083.0" font-size="37.1" fill="#4d4d4d" textLength="21.68" lengthAdjust="spacingAndGlyphs">0</text>
<text x="2389.75" y="2083.0" font-size="37.1" fill="#4d4d4d" textLength="21.68" lengthAdjust="spacingAndGlyphs">0</text>
<text x="2413.08" y="2083.0" font-size="37.1" fill="#4d4d4d" textLength="21.68" lengthAdjust="spacingAndGlyphs">0</text>
<path d="M977.5 2847.2V2858.7M1318.8 2847.2V2858.7M1660 2847.2V2858.7M2000.9 2847.2V2858.7M2342.0 2847.2V2858.7" stroke="#333" stroke-width="4.2" fill="none"/>
<text x="884.95" y="2893.8" font-size="37.1" fill="#4d4d4d" textLength="22.15" lengthAdjust="spacingAndGlyphs">9</text>
<text x="908.57" y="2893.8" font-size="37.1" fill="#4d4d4d" textLength="20.84" lengthAdjust="spacingAndGlyphs">2</text>
<text x="931.93" y="2893.8" font-size="37.1" fill="#4d4d4d" textLength="21.68" lengthAdjust="spacingAndGlyphs">0</text>
<text x="955.69" y="2893.8" font-size="37.1" fill="#4d4d4d" textLength="20.63" lengthAdjust="spacingAndGlyphs">1</text>
<text x="979.15" y="2893.8" font-size="37.1" fill="#4d4d4d" textLength="20.29" lengthAdjust="spacingAndGlyphs">5</text>
<text x="1001.92" y="2893.8" font-size="37.1" fill="#4d4d4d" textLength="21.68" lengthAdjust="spacingAndGlyphs">0</text>
<text x="1025.25" y="2893.8" font-size="37.1" fill="#4d4d4d" textLength="21.68" lengthAdjust="spacingAndGlyphs">0</text>
<text x="1048.58" y="2893.8" font-size="37.1" fill="#4d4d4d" textLength="21.68" lengthAdjust="spacingAndGlyphs">0</text>
<text x="1226.25" y="2893.8" font-size="37.1" fill="#4d4d4d" textLength="22.15" lengthAdjust="spacingAndGlyphs">9</text>
<text x="1249.87" y="2893.8" font-size="37.1" fill="#4d4d4d" textLength="20.84" lengthAdjust="spacingAndGlyphs">2</text>
<text x="1273.23" y="2893.8" font-size="37.1" fill="#4d4d4d" textLength="21.68" lengthAdjust="spacingAndGlyphs">0</text>
<text x="1296.52" y="2893.8" font-size="37.1" fill="#4d4d4d" textLength="20.84" lengthAdjust="spacingAndGlyphs">2</text>
<text x="1319.89" y="2893.8" font-size="37.1" fill="#4d4d4d" textLength="21.68" lengthAdjust="spacingAndGlyphs">0</text>
<text x="1343.22" y="2893.8" font-size="37.1" fill="#4d4d4d" textLength="21.68" lengthAdjust="spacingAndGlyphs">0</text>
<text x="1366.55" y="2893.8" font-size="37.1" fill="#4d4d4d" textLength="21.68" lengthAdjust="spacingAndGlyphs">0</text>
<text x="1389.88" y="2893.8" font-size="37.1" fill="#4d4d4d" textLength="21.68" lengthAdjust="spacingAndGlyphs">0</text>
<text x="1567.45" y="2893.8" font-size="37.1" fill="#4d4d4d" textLength="22.15" lengthAdjust="spacingAndGlyphs">9</text>
<text x="1591.07" y="2893.8" font-size="37.1" fill="#4d4d4d" textLength="20.84" lengthAdjust="spacingAndGlyphs">2</text>
<text x="1614.43" y="2893.8" font-size="37.1" fill="#4d4d4d" textLength="21.68" lengthAdjust="spacingAndGlyphs">0</text>
<text x="1637.72" y="2893.8" font-size="37.1" fill="#4d4d4d" textLength="20.84" lengthAdjust="spacingAndGlyphs">2</text>
<text x="1661.65" y="2893.8" font-size="37.1" fill="#4d4d4d" textLength="20.29" lengthAdjust="spacingAndGlyphs">5</text>
<text x="1684.42" y="2893.8" font-size="37.1" fill="#4d4d4d" textLength="21.68" lengthAdjust="spacingAndGlyphs">0</text>
<text x="1707.75" y="2893.8" font-size="37.1" fill="#4d4d4d" textLength="21.68" lengthAdjust="spacingAndGlyphs">0</text>
<text x="1731.08" y="2893.8" font-size="37.1" fill="#4d4d4d" textLength="21.68" lengthAdjust="spacingAndGlyphs">0</text>
<text x="1908.35" y="2893.8" font-size="37.1" fill="#4d4d4d" textLength="22.15" lengthAdjust="spacingAndGlyphs">9</text>
<text x="1931.97" y="2893.8" font-size="37.1" fill="#4d4d4d" textLength="20.84" lengthAdjust="spacingAndGlyphs">2</text>
<text x="1955.33" y="2893.8" font-size="37.1" fill="#4d4d4d" textLength="21.68" lengthAdjust="spacingAndGlyphs">0</text>
<text x="1979.08" y="2893.8" font-size="37.1" fill="#4d4d4d" textLength="20.94" lengthAdjust="spacingAndGlyphs">3</text>
<text x="2001.99" y="2893.8" font-size="37.1" fill="#4d4d4d" textLength="21.68" lengthAdjust="spacingAndGlyphs">0</text>
<text x="2025.32" y="2893.8" font-size="37.1" fill="#4d4d4d" textLength="21.68" lengthAdjust="spacingAndGlyphs">0</text>
<text x="2048.65" y="2893.8" font-size="37.1" fill="#4d4d4d" textLength="21.68" lengthAdjust="spacingAndGlyphs">0</text>
<text x="2071.98" y="2893.8" font-size="37.1" fill="#4d4d4d" textLength="21.68" lengthAdjust="spacingAndGlyphs">0</text>
<text x="2249.45" y="2893.8" font-size="37.1" fill="#4d4d4d" textLength="22.15" lengthAdjust="spacingAndGlyphs">9</text>
<text x="2273.07" y="2893.8" font-size="37.1" fill="#4d4d4d" textLength="20.84" lengthAdjust="spacingAndGlyphs">2</text>
<text x="2296.43" y="2893.8" font-size="37.1" fill="#4d4d4d" textLength="21.68" lengthAdjust="spacingAndGlyphs">0</text>
<text x="2320.18" y="2893.8" font-size="37.1" fill="#4d4d4d" textLength="20.94" lengthAdjust="spacingAndGlyphs">3</text>
<text x="2343.65" y="2893.8" font-size="37.1" fill="#4d4d4d" textLength="20.29" lengthAdjust="spacingAndGlyphs">5</text>
<text x="2366.42" y="2893.8" font-size="37.1" fill="#4d4d4d" textLength="21.68" lengthAdjust="spacingAndGlyphs">0</text>
<text x="2389.75" y="2893.8" font-size="37.1" fill="#4d4d4d" textLength="21.68" lengthAdjust="spacingAndGlyphs">0</text>
<text x="2413.08" y="2893.8" font-size="37.1" fill="#4d4d4d" textLength="21.68" lengthAdjust="spacingAndGlyphs">0</text>
<text x="1326.49" y="2945.0" font-size="48.0" fill="#000" textLength="23.05" lengthAdjust="spacingAndGlyphs">c</text>
<text x="1351.86" y="2945.0" font-size="48.0" fill="#000" textLength="27.92" lengthAdjust="spacingAndGlyphs">h</text>
<text x="1380.58" y="2945.0" font-size="48.0" fill="#000" textLength="19.69" lengthAdjust="spacingAndGlyphs">r</text>
<text x="1400.69" y="2945.0" font-size="48.0" fill="#000" textLength="26.17" lengthAdjust="spacingAndGlyphs">3</text>
<text x="1443.75" y="2945.0" font-size="48.0" fill="#000" textLength="27.76" lengthAdjust="spacingAndGlyphs">p</text>
<text x="1472.54" y="2945.0" font-size="48.0" fill="#000" textLength="26.97" lengthAdjust="spacingAndGlyphs">o</text>
<text x="1501.08" y="2945.0" font-size="48.0" fill="#000" textLength="22.13" lengthAdjust="spacingAndGlyphs">s</text>
<text x="1525.06" y="2945.0" font-size="48.0" fill="#000" textLength="10.47" lengthAdjust="spacingAndGlyphs">i</text>
<text x="1536.96" y="2945.0" font-size="48.0" fill="#000" textLength="17.11" lengthAdjust="spacingAndGlyphs">t</text>
<text x="1555.77" y="2945.0" font-size="48.0" fill="#000" textLength="10.47" lengthAdjust="spacingAndGlyphs">i</text>
<text x="1567.91" y="2945.0" font-size="48.0" fill="#000" textLength="26.97" lengthAdjust="spacingAndGlyphs">o</text>
<text x="1596.27" y="2945.0" font-size="48.0" fill="#000" textLength="27.59" lengthAdjust="spacingAndGlyphs">n</text>
<text x="1640.55" y="2945.0" font-size="48.0" fill="#000" textLength="12.96" lengthAdjust="spacingAndGlyphs">(</text>
<text x="1657.75" y="2945.0" font-size="48.0" fill="#000" textLength="27.76" lengthAdjust="spacingAndGlyphs">b</text>
<text x="1686.84" y="2945.0" font-size="48.0" fill="#000" textLength="27.76" lengthAdjust="spacingAndGlyphs">p</text>
<text x="1718.32" y="2945.0" font-size="48.0" fill="#000" textLength="13.21" lengthAdjust="spacingAndGlyphs">)</text>
<text x="1473.62" y="2740.0" font-size="30.5" fill="#000" textLength="17.36" lengthAdjust="spacingAndGlyphs">P</text>
<text x="1490.94" y="2740.0" font-size="30.5" fill="#000" textLength="17.85" lengthAdjust="spacingAndGlyphs">g</text>
<text x="1510.07" y="2740.0" font-size="30.5" fill="#000" textLength="6.73" lengthAdjust="spacingAndGlyphs">l</text>
<text x="1518.22" y="2740.0" font-size="30.5" fill="#000" textLength="16.02" lengthAdjust="spacingAndGlyphs">y</text>
<text x="1535.12" y="2740.0" font-size="30.5" fill="#000" textLength="12.66" lengthAdjust="spacingAndGlyphs">r</text>
<text x="1547.63" y="2740.0" font-size="30.5" fill="#000" textLength="17.85" lengthAdjust="spacingAndGlyphs">p</text>
<text x="1566.77" y="2740.0" font-size="30.5" fill="#000" textLength="16.83" lengthAdjust="spacingAndGlyphs">3</text>
<line x1="949.5" x2="2110" y1="2802.1" y2="2802.1" stroke="#00008b" stroke-width="4.3"/>
<path d="M940.8 2793.4L949.5 2802.1L940.8 2810.8M970.8 2793.4L979.5 2802.1L970.8 2810.8M1000.8 2793.4L1009.5 2802.1L1000.8 2810.8M1030.8 2793.4L1039.5 2802.1L1030.8 2810.8M1060.8 2793.4L1069.5 2802.1L1060.8 2810.8M1090.8 2793.4L1099.5 2802.1L1090.8 2810.8M1120.8 2793.4L1129.5 2802.1L1120.8 2810.8M1150.8 2793.4L1159.5 2802.1L1150.8 2810.8M1180.8 2793.4L1189.5 2802.1L1180.8 2810.8M1210.8 2793.4L1219.5 2802.1L1210.8 2810.8M1240.8 2793.4L1249.5 2802.1L1240.8 2810.8M1270.8 2793.4L1279.5 2802.1L1270.8 2810.8M1300.8 2793.4L1309.5 2802.1L1300.8 2810.8M1330.8 2793.4L1339.5 2802.1L1330.8 2810.8M1360.8 2793.4L1369.5 2802.1L1360.8 2810.8M1390.8 2793.4L1399.5 2802.1L1390.8 2810.8M1420.8 2793.4L1429.5 2802.1L1420.8 2810.8M1450.8 2793.4L1459.5 2802.1L1450.8 2810.8M1480.8 2793.4L1489.5 2802.1L1480.8 2810.8M1510.8 2793.4L1519.5 2802.1L1510.8 2810.8M1540.8 2793.4L1549.5 2802.1L1540.8 2810.8M1570.8 2793.4L1579.5 2802.1L1570.8 2810.8M1600.8 2793.4L1609.5 2802.1L1600.8 2810.8M1630.8 2793.4L1639.5 2802.1L1630.8 2810.8M1660.8 2793.4L1669.5 2802.1L1660.8 2810.8M1690.8 2793.4L1699.5 2802.1L1690.8 2810.8M1720.8 2793.4L1729.5 2802.1L1720.8 2810.8M1750.8 2793.4L1759.5 2802.1L1750.8 2810.8M1780.8 2793.4L1789.5 2802.1L1780.8 2810.8M1810.8 2793.4L1819.5 2802.1L1810.8 2810.8M1840.8 2793.4L1849.5 2802.1L1840.8 2810.8M1870.8 2793.4L1879.5 2802.1L1870.8 2810.8M1900.8 2793.4L1909.5 2802.1L1900.8 2810.8M1930.8 2793.4L1939.5 2802.1L1930.8 2810.8M1960.8 2793.4L1969.5 2802.1L1960.8 2810.8M1990.8 2793.4L1999.5 2802.1L1990.8 2810.8M2020.8 2793.4L2029.5 2802.1L2020.8 2810.8M2050.8 2793.4L2059.5 2802.1L2050.8 2810.8M2080.8 2793.4L2089.5 2802.1L2080.8 2810.8M2099.8 2793.4L2108.5 2802.1L2099.8 2810.8" stroke="#00008b" stroke-width="4.3" fill="none" stroke-linejoin="miter"/>
<rect x="949.3" y="2788.8" width="8.0" height="26.4" fill="#00008b"/>
<rect x="1496.9" y="2788.8" width="13.2" height="26.4" fill="#00008b"/>
<rect x="1706.3" y="2788.8" width="7.6" height="26.4" fill="#00008b"/>
<rect x="1759.1" y="2788.8" width="9.4" height="26.4" fill="#00008b"/>
<rect x="1864.1" y="2788.8" width="13.2" height="26.4" fill="#00008b"/>
<rect x="2044.2" y="2788.8" width="7.6" height="26.4" fill="#00008b"/>
<rect x="2095.3" y="2788.8" width="13.6" height="26.4" fill="#00008b"/>
</svg></body></html>
